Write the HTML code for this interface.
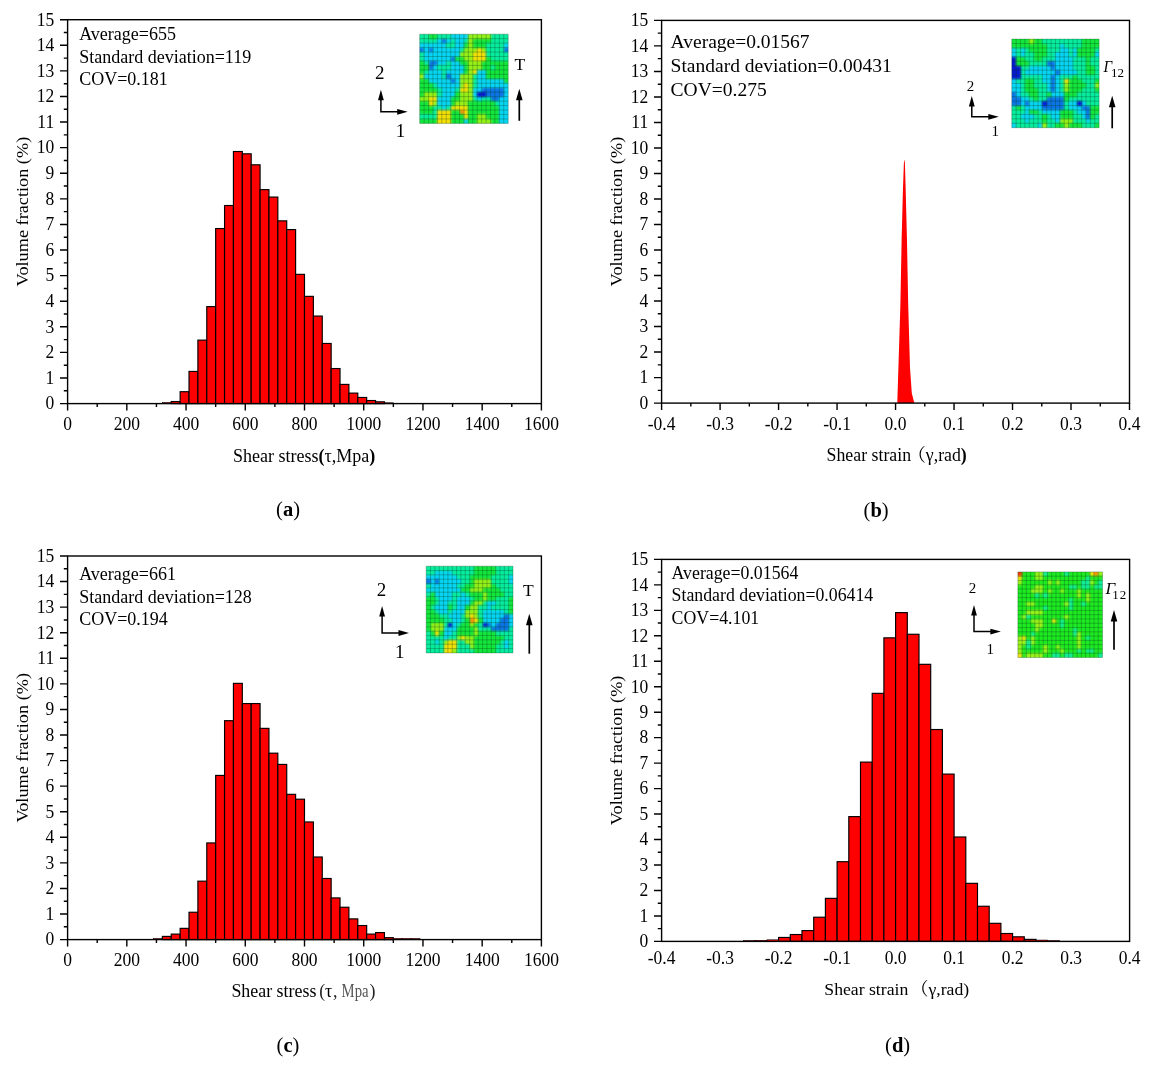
<!DOCTYPE html>
<html lang="en"><head><meta charset="utf-8"><title>Shear stress and shear strain volume fraction histograms</title>
<style>html,body{margin:0;padding:0;background:#fff}svg{display:block}text{white-space:pre}</style></head>
<body>
<svg width="1155" height="1066" viewBox="0 0 1155 1066" font-family='"Liberation Serif", "Noto Serif CJK SC", serif' fill="#000">
<rect width="1155" height="1066" fill="#fff"/>
<defs><filter id="hb" x="-10%" y="-10%" width="120%" height="120%" color-interpolation-filters="sRGB"><feGaussianBlur stdDeviation="1.15"/></filter></defs>
<g id="pa">
<g fill="#fe0000" stroke="#000" stroke-width="1.15">
<rect x="162.36" y="402.53" width="8.88" height="1.07" stroke-width="0.6"/>
<rect x="171.24" y="401.55" width="8.88" height="2.05"/>
<rect x="180.13" y="391.7" width="8.88" height="11.9"/>
<rect x="189.01" y="371.43" width="8.88" height="32.17"/>
<rect x="197.89" y="340.13" width="8.88" height="63.47"/>
<rect x="206.78" y="306.6" width="8.88" height="97"/>
<rect x="215.66" y="228.54" width="8.88" height="175.06"/>
<rect x="224.55" y="205.51" width="8.88" height="198.09"/>
<rect x="233.43" y="151.51" width="8.88" height="252.09"/>
<rect x="242.31" y="153.81" width="8.88" height="249.79"/>
<rect x="251.2" y="164.81" width="8.88" height="238.79"/>
<rect x="260.08" y="189.64" width="8.88" height="213.96"/>
<rect x="268.96" y="197.06" width="8.88" height="206.54"/>
<rect x="277.85" y="220.86" width="8.88" height="182.74"/>
<rect x="286.73" y="229.57" width="8.88" height="174.03"/>
<rect x="295.62" y="274.35" width="8.88" height="129.25"/>
<rect x="304.5" y="296.36" width="8.88" height="107.24"/>
<rect x="313.38" y="316.07" width="8.88" height="87.53"/>
<rect x="322.27" y="343.46" width="8.88" height="60.14"/>
<rect x="331.15" y="368.54" width="8.88" height="35.06"/>
<rect x="340.03" y="384.41" width="8.88" height="19.2"/>
<rect x="348.92" y="393.11" width="8.88" height="10.49"/>
<rect x="357.8" y="397.46" width="8.88" height="6.14"/>
<rect x="366.69" y="400.53" width="8.88" height="3.07"/>
<rect x="375.57" y="401.81" width="8.88" height="1.79"/>
<rect x="384.45" y="402.79" width="8.88" height="0.81" stroke-width="0.6"/>
</g>
<rect x="67.6" y="19.7" width="473.8" height="383.9" fill="none" stroke="#000" stroke-width="1.4"/>
<path d="M67.6 403.6h-7.6M67.6 390.8h-3.8M67.6 378.01h-7.6M67.6 365.21h-3.8M67.6 352.41h-7.6M67.6 339.62h-3.8M67.6 326.82h-7.6M67.6 314.02h-3.8M67.6 301.23h-7.6M67.6 288.43h-3.8M67.6 275.63h-7.6M67.6 262.84h-3.8M67.6 250.04h-7.6M67.6 237.24h-3.8M67.6 224.45h-7.6M67.6 211.65h-3.8M67.6 198.85h-7.6M67.6 186.06h-3.8M67.6 173.26h-7.6M67.6 160.46h-3.8M67.6 147.67h-7.6M67.6 134.87h-3.8M67.6 122.07h-7.6M67.6 109.28h-3.8M67.6 96.48h-7.6M67.6 83.68h-3.8M67.6 70.89h-7.6M67.6 58.09h-3.8M67.6 45.29h-7.6M67.6 32.5h-3.8M67.6 19.7h-7.6M67.6 403.6v7M97.21 403.6v3.5M126.82 403.6v7M156.44 403.6v3.5M186.05 403.6v7M215.66 403.6v3.5M245.27 403.6v7M274.89 403.6v3.5M304.5 403.6v7M334.11 403.6v3.5M363.73 403.6v7M393.34 403.6v3.5M422.95 403.6v7M452.56 403.6v3.5M482.17 403.6v7M511.79 403.6v3.5M541.4 403.6v7" stroke="#000" stroke-width="1.4" fill="none"/>
<g font-size="17.5" text-anchor="end">
<text transform="translate(54.2 409.4) scale(1 1.03)">0</text>
<text transform="translate(54.2 383.81) scale(1 1.03)">1</text>
<text transform="translate(54.2 358.21) scale(1 1.03)">2</text>
<text transform="translate(54.2 332.62) scale(1 1.03)">3</text>
<text transform="translate(54.2 307.03) scale(1 1.03)">4</text>
<text transform="translate(54.2 281.43) scale(1 1.03)">5</text>
<text transform="translate(54.2 255.84) scale(1 1.03)">6</text>
<text transform="translate(54.2 230.25) scale(1 1.03)">7</text>
<text transform="translate(54.2 204.65) scale(1 1.03)">8</text>
<text transform="translate(54.2 179.06) scale(1 1.03)">9</text>
<text transform="translate(54.2 153.47) scale(1 1.03)">10</text>
<text transform="translate(54.2 127.87) scale(1 1.03)">11</text>
<text transform="translate(54.2 102.28) scale(1 1.03)">12</text>
<text transform="translate(54.2 76.69) scale(1 1.03)">13</text>
<text transform="translate(54.2 51.09) scale(1 1.03)">14</text>
<text transform="translate(54.2 25.5) scale(1 1.03)">15</text>
</g>
<g font-size="17.5" text-anchor="middle">
<text transform="translate(67.6 430.4) scale(1 1.03)">0</text>
<text transform="translate(126.82 430.4) scale(1 1.03)">200</text>
<text transform="translate(186.05 430.4) scale(1 1.03)">400</text>
<text transform="translate(245.27 430.4) scale(1 1.03)">600</text>
<text transform="translate(304.5 430.4) scale(1 1.03)">800</text>
<text transform="translate(363.73 430.4) scale(1 1.03)">1000</text>
<text transform="translate(422.95 430.4) scale(1 1.03)">1200</text>
<text transform="translate(482.17 430.4) scale(1 1.03)">1400</text>
<text transform="translate(541.4 430.4) scale(1 1.03)">1600</text>
</g>
<text transform="translate(28.2 211.6) rotate(-90) scale(1.043 1)" font-size="17.5" text-anchor="middle">Volume fraction (%)</text>
<text x="304.1" y="461.9" font-size="18" text-anchor="middle" >Shear stress<tspan font-weight="bold">(</tspan>τ,Mpa<tspan font-weight="bold">)</tspan></text>
<text x="79.2" y="40.1" font-size="18" text-anchor="start" >Average=655</text>
<text x="79.2" y="62.7" font-size="18" text-anchor="start" >Standard deviation=119</text>
<text x="79.2" y="85.2" font-size="18" text-anchor="start" >COV=0.181</text>
<clipPath id="hc1"><rect x="419.7" y="34.2" width="88.5" height="89.2"/></clipPath>
<g clip-path="url(#hc1)"><g filter="url(#hb)" shape-rendering="crispEdges">
<rect x="414.7" y="29.2" width="13.9" height="9.51" fill="#08eca0"/>
<rect x="428.55" y="29.2" width="8.9" height="9.51" fill="#14e63c"/>
<rect x="437.4" y="29.2" width="13.33" height="9.51" fill="#08eca0"/>
<rect x="450.68" y="29.2" width="17.75" height="9.51" fill="#08d4f4"/>
<rect x="468.38" y="29.2" width="22.18" height="9.51" fill="#96f018"/>
<rect x="490.5" y="29.2" width="22.75" height="9.51" fill="#08eca0"/>
<rect x="414.7" y="38.66" width="22.75" height="4.51" fill="#08eca0"/>
<rect x="437.4" y="38.66" width="4.48" height="4.51" fill="#08d4f4"/>
<rect x="441.82" y="38.66" width="4.48" height="4.51" fill="#0c74e6"/>
<rect x="446.25" y="38.66" width="4.48" height="4.51" fill="#08d4f4"/>
<rect x="450.68" y="38.66" width="4.47" height="4.51" fill="#08eca0"/>
<rect x="455.1" y="38.66" width="8.9" height="4.51" fill="#08d4f4"/>
<rect x="463.95" y="38.66" width="4.48" height="4.51" fill="#08eca0"/>
<rect x="468.38" y="38.66" width="4.47" height="4.51" fill="#96f018"/>
<rect x="472.8" y="38.66" width="17.75" height="4.51" fill="#14e63c"/>
<rect x="490.5" y="38.66" width="22.75" height="4.51" fill="#08eca0"/>
<rect x="414.7" y="43.12" width="31.6" height="4.51" fill="#08d4f4"/>
<rect x="446.25" y="43.12" width="8.9" height="4.51" fill="#08eca0"/>
<rect x="455.1" y="43.12" width="8.9" height="4.51" fill="#08d4f4"/>
<rect x="463.95" y="43.12" width="4.48" height="4.51" fill="#14e63c"/>
<rect x="468.38" y="43.12" width="4.47" height="4.51" fill="#96f018"/>
<rect x="472.8" y="43.12" width="13.33" height="4.51" fill="#14e63c"/>
<rect x="486.07" y="43.12" width="17.75" height="4.51" fill="#08eca0"/>
<rect x="503.77" y="43.12" width="9.48" height="4.51" fill="#08d4f4"/>
<rect x="414.7" y="47.58" width="9.48" height="4.51" fill="#0c74e6"/>
<rect x="424.12" y="47.58" width="4.48" height="4.51" fill="#08d4f4"/>
<rect x="428.55" y="47.58" width="4.47" height="4.51" fill="#0c74e6"/>
<rect x="432.97" y="47.58" width="26.6" height="4.51" fill="#08d4f4"/>
<rect x="459.52" y="47.58" width="4.48" height="4.51" fill="#08eca0"/>
<rect x="463.95" y="47.58" width="13.32" height="4.51" fill="#96f018"/>
<rect x="477.22" y="47.58" width="4.48" height="4.51" fill="#f6de08"/>
<rect x="481.65" y="47.58" width="4.48" height="4.51" fill="#96f018"/>
<rect x="486.07" y="47.58" width="17.75" height="4.51" fill="#08eca0"/>
<rect x="503.77" y="47.58" width="9.48" height="4.51" fill="#0c74e6"/>
<rect x="414.7" y="52.04" width="9.48" height="4.51" fill="#08eca0"/>
<rect x="424.12" y="52.04" width="35.45" height="4.51" fill="#08d4f4"/>
<rect x="459.52" y="52.04" width="13.32" height="4.51" fill="#96f018"/>
<rect x="472.8" y="52.04" width="13.33" height="4.51" fill="#f6de08"/>
<rect x="486.07" y="52.04" width="27.18" height="4.51" fill="#08eca0"/>
<rect x="414.7" y="56.5" width="9.48" height="4.51" fill="#08eca0"/>
<rect x="424.12" y="56.5" width="26.6" height="4.51" fill="#08d4f4"/>
<rect x="450.68" y="56.5" width="4.47" height="4.51" fill="#0c74e6"/>
<rect x="455.1" y="56.5" width="8.9" height="4.51" fill="#14e63c"/>
<rect x="463.95" y="56.5" width="8.9" height="4.51" fill="#96f018"/>
<rect x="472.8" y="56.5" width="13.33" height="4.51" fill="#f6de08"/>
<rect x="486.07" y="56.5" width="4.48" height="4.51" fill="#14e63c"/>
<rect x="490.5" y="56.5" width="22.75" height="4.51" fill="#08eca0"/>
<rect x="414.7" y="60.96" width="9.48" height="4.51" fill="#14e63c"/>
<rect x="424.12" y="60.96" width="4.48" height="4.51" fill="#08eca0"/>
<rect x="428.55" y="60.96" width="8.9" height="4.51" fill="#0c74e6"/>
<rect x="437.4" y="60.96" width="8.9" height="4.51" fill="#08d4f4"/>
<rect x="446.25" y="60.96" width="4.48" height="4.51" fill="#08eca0"/>
<rect x="450.68" y="60.96" width="8.9" height="4.51" fill="#08d4f4"/>
<rect x="459.52" y="60.96" width="8.9" height="4.51" fill="#14e63c"/>
<rect x="468.38" y="60.96" width="13.32" height="4.51" fill="#96f018"/>
<rect x="481.65" y="60.96" width="31.6" height="4.51" fill="#14e63c"/>
<rect x="414.7" y="65.42" width="13.9" height="4.51" fill="#14e63c"/>
<rect x="428.55" y="65.42" width="4.47" height="4.51" fill="#0c74e6"/>
<rect x="432.97" y="65.42" width="4.48" height="4.51" fill="#08d4f4"/>
<rect x="437.4" y="65.42" width="13.33" height="4.51" fill="#08eca0"/>
<rect x="450.68" y="65.42" width="13.32" height="4.51" fill="#08d4f4"/>
<rect x="463.95" y="65.42" width="4.48" height="4.51" fill="#14e63c"/>
<rect x="468.38" y="65.42" width="13.32" height="4.51" fill="#96f018"/>
<rect x="481.65" y="65.42" width="8.9" height="4.51" fill="#14e63c"/>
<rect x="490.5" y="65.42" width="4.47" height="4.51" fill="#08eca0"/>
<rect x="494.92" y="65.42" width="18.33" height="4.51" fill="#14e63c"/>
<rect x="414.7" y="69.88" width="9.48" height="4.51" fill="#14e63c"/>
<rect x="424.12" y="69.88" width="4.48" height="4.51" fill="#08eca0"/>
<rect x="428.55" y="69.88" width="13.32" height="4.51" fill="#08d4f4"/>
<rect x="441.82" y="69.88" width="4.48" height="4.51" fill="#08eca0"/>
<rect x="446.25" y="69.88" width="17.75" height="4.51" fill="#08d4f4"/>
<rect x="463.95" y="69.88" width="4.48" height="4.51" fill="#14e63c"/>
<rect x="468.38" y="69.88" width="4.47" height="4.51" fill="#96f018"/>
<rect x="472.8" y="69.88" width="4.48" height="4.51" fill="#f6de08"/>
<rect x="477.22" y="69.88" width="8.9" height="4.51" fill="#08d4f4"/>
<rect x="486.07" y="69.88" width="27.18" height="4.51" fill="#14e63c"/>
<rect x="414.7" y="74.34" width="9.48" height="4.51" fill="#96f018"/>
<rect x="424.12" y="74.34" width="17.75" height="4.51" fill="#08d4f4"/>
<rect x="441.82" y="74.34" width="4.48" height="4.51" fill="#08eca0"/>
<rect x="446.25" y="74.34" width="4.48" height="4.51" fill="#0c74e6"/>
<rect x="450.68" y="74.34" width="8.9" height="4.51" fill="#08d4f4"/>
<rect x="459.52" y="74.34" width="13.32" height="4.51" fill="#96f018"/>
<rect x="472.8" y="74.34" width="4.48" height="4.51" fill="#08eca0"/>
<rect x="477.22" y="74.34" width="8.9" height="4.51" fill="#08d4f4"/>
<rect x="486.07" y="74.34" width="27.18" height="4.51" fill="#14e63c"/>
<rect x="414.7" y="78.8" width="13.9" height="4.51" fill="#14e63c"/>
<rect x="428.55" y="78.8" width="22.18" height="4.51" fill="#08d4f4"/>
<rect x="450.68" y="78.8" width="4.47" height="4.51" fill="#0c74e6"/>
<rect x="455.1" y="78.8" width="4.48" height="4.51" fill="#08d4f4"/>
<rect x="459.52" y="78.8" width="13.32" height="4.51" fill="#96f018"/>
<rect x="472.8" y="78.8" width="4.48" height="4.51" fill="#08eca0"/>
<rect x="477.22" y="78.8" width="26.6" height="4.51" fill="#08d4f4"/>
<rect x="503.77" y="78.8" width="9.48" height="4.51" fill="#14e63c"/>
<rect x="414.7" y="83.26" width="18.32" height="4.51" fill="#14e63c"/>
<rect x="432.97" y="83.26" width="4.48" height="4.51" fill="#08eca0"/>
<rect x="437.4" y="83.26" width="22.18" height="4.51" fill="#08d4f4"/>
<rect x="459.52" y="83.26" width="4.48" height="4.51" fill="#96f018"/>
<rect x="463.95" y="83.26" width="4.48" height="4.51" fill="#f6de08"/>
<rect x="468.38" y="83.26" width="4.47" height="4.51" fill="#96f018"/>
<rect x="472.8" y="83.26" width="4.48" height="4.51" fill="#08eca0"/>
<rect x="477.22" y="83.26" width="36.03" height="4.51" fill="#08d4f4"/>
<rect x="414.7" y="87.72" width="22.75" height="4.51" fill="#14e63c"/>
<rect x="437.4" y="87.72" width="4.48" height="4.51" fill="#08eca0"/>
<rect x="441.82" y="87.72" width="13.32" height="4.51" fill="#08d4f4"/>
<rect x="455.1" y="87.72" width="4.48" height="4.51" fill="#08eca0"/>
<rect x="459.52" y="87.72" width="8.9" height="4.51" fill="#f6de08"/>
<rect x="468.38" y="87.72" width="4.47" height="4.51" fill="#96f018"/>
<rect x="472.8" y="87.72" width="8.9" height="4.51" fill="#08d4f4"/>
<rect x="481.65" y="87.72" width="22.18" height="4.51" fill="#0c74e6"/>
<rect x="503.77" y="87.72" width="9.48" height="4.51" fill="#08d4f4"/>
<rect x="414.7" y="92.18" width="9.48" height="4.51" fill="#14e63c"/>
<rect x="424.12" y="92.18" width="13.32" height="4.51" fill="#96f018"/>
<rect x="437.4" y="92.18" width="4.48" height="4.51" fill="#08eca0"/>
<rect x="441.82" y="92.18" width="13.32" height="4.51" fill="#08d4f4"/>
<rect x="455.1" y="92.18" width="4.48" height="4.51" fill="#14e63c"/>
<rect x="459.52" y="92.18" width="13.32" height="4.51" fill="#96f018"/>
<rect x="472.8" y="92.18" width="4.48" height="4.51" fill="#08d4f4"/>
<rect x="477.22" y="92.18" width="8.9" height="4.51" fill="#0818d2"/>
<rect x="486.07" y="92.18" width="17.75" height="4.51" fill="#0c74e6"/>
<rect x="503.77" y="92.18" width="9.48" height="4.51" fill="#08d4f4"/>
<rect x="414.7" y="96.64" width="13.9" height="4.51" fill="#96f018"/>
<rect x="428.55" y="96.64" width="8.9" height="4.51" fill="#f6de08"/>
<rect x="437.4" y="96.64" width="13.33" height="4.51" fill="#08d4f4"/>
<rect x="450.68" y="96.64" width="8.9" height="4.51" fill="#14e63c"/>
<rect x="459.52" y="96.64" width="13.32" height="4.51" fill="#96f018"/>
<rect x="472.8" y="96.64" width="4.48" height="4.51" fill="#08eca0"/>
<rect x="477.22" y="96.64" width="4.48" height="4.51" fill="#08d4f4"/>
<rect x="481.65" y="96.64" width="8.9" height="4.51" fill="#08eca0"/>
<rect x="490.5" y="96.64" width="8.9" height="4.51" fill="#0c74e6"/>
<rect x="499.35" y="96.64" width="13.9" height="4.51" fill="#08d4f4"/>
<rect x="414.7" y="101.1" width="13.9" height="4.51" fill="#14e63c"/>
<rect x="428.55" y="101.1" width="4.47" height="4.51" fill="#f6de08"/>
<rect x="432.97" y="101.1" width="4.48" height="4.51" fill="#96f018"/>
<rect x="437.4" y="101.1" width="13.33" height="4.51" fill="#08d4f4"/>
<rect x="450.68" y="101.1" width="4.47" height="4.51" fill="#14e63c"/>
<rect x="455.1" y="101.1" width="13.33" height="4.51" fill="#96f018"/>
<rect x="468.38" y="101.1" width="26.6" height="4.51" fill="#14e63c"/>
<rect x="494.92" y="101.1" width="4.48" height="4.51" fill="#08eca0"/>
<rect x="499.35" y="101.1" width="13.9" height="4.51" fill="#08d4f4"/>
<rect x="414.7" y="105.56" width="18.32" height="4.51" fill="#14e63c"/>
<rect x="432.97" y="105.56" width="8.9" height="4.51" fill="#08eca0"/>
<rect x="441.82" y="105.56" width="4.48" height="4.51" fill="#08d4f4"/>
<rect x="446.25" y="105.56" width="4.48" height="4.51" fill="#08eca0"/>
<rect x="450.68" y="105.56" width="17.75" height="4.51" fill="#f6de08"/>
<rect x="468.38" y="105.56" width="31.02" height="4.51" fill="#14e63c"/>
<rect x="499.35" y="105.56" width="13.9" height="4.51" fill="#08d4f4"/>
<rect x="414.7" y="110.02" width="18.32" height="4.51" fill="#14e63c"/>
<rect x="432.97" y="110.02" width="4.48" height="4.51" fill="#08eca0"/>
<rect x="437.4" y="110.02" width="13.33" height="4.51" fill="#f6de08"/>
<rect x="450.68" y="110.02" width="8.9" height="4.51" fill="#14e63c"/>
<rect x="459.52" y="110.02" width="4.48" height="4.51" fill="#ff8a08"/>
<rect x="463.95" y="110.02" width="4.48" height="4.51" fill="#f6de08"/>
<rect x="468.38" y="110.02" width="31.02" height="4.51" fill="#14e63c"/>
<rect x="499.35" y="110.02" width="13.9" height="4.51" fill="#08d4f4"/>
<rect x="414.7" y="114.48" width="22.75" height="4.51" fill="#08eca0"/>
<rect x="437.4" y="114.48" width="13.33" height="4.51" fill="#f6de08"/>
<rect x="450.68" y="114.48" width="13.32" height="4.51" fill="#14e63c"/>
<rect x="463.95" y="114.48" width="4.48" height="4.51" fill="#f6de08"/>
<rect x="468.38" y="114.48" width="8.9" height="4.51" fill="#14e63c"/>
<rect x="477.22" y="114.48" width="8.9" height="4.51" fill="#96f018"/>
<rect x="486.07" y="114.48" width="13.32" height="4.51" fill="#14e63c"/>
<rect x="499.35" y="114.48" width="13.9" height="4.51" fill="#08d4f4"/>
<rect x="414.7" y="118.94" width="22.75" height="9.51" fill="#14e63c"/>
<rect x="437.4" y="118.94" width="13.33" height="9.51" fill="#f6de08"/>
<rect x="450.68" y="118.94" width="13.32" height="9.51" fill="#14e63c"/>
<rect x="463.95" y="118.94" width="4.48" height="9.51" fill="#08d4f4"/>
<rect x="468.38" y="118.94" width="8.9" height="9.51" fill="#14e63c"/>
<rect x="477.22" y="118.94" width="13.33" height="9.51" fill="#96f018"/>
<rect x="490.5" y="118.94" width="8.9" height="9.51" fill="#14e63c"/>
<rect x="499.35" y="118.94" width="13.9" height="9.51" fill="#08d4f4"/>
</g></g>
<path d="M419.7 34.2V123.4M419.7 34.2H508.2M424.12 34.2V123.4M419.7 38.66H508.2M428.55 34.2V123.4M419.7 43.12H508.2M432.97 34.2V123.4M419.7 47.58H508.2M437.4 34.2V123.4M419.7 52.04H508.2M441.82 34.2V123.4M419.7 56.5H508.2M446.25 34.2V123.4M419.7 60.96H508.2M450.68 34.2V123.4M419.7 65.42H508.2M455.1 34.2V123.4M419.7 69.88H508.2M459.52 34.2V123.4M419.7 74.34H508.2M463.95 34.2V123.4M419.7 78.8H508.2M468.38 34.2V123.4M419.7 83.26H508.2M472.8 34.2V123.4M419.7 87.72H508.2M477.22 34.2V123.4M419.7 92.18H508.2M481.65 34.2V123.4M419.7 96.64H508.2M486.07 34.2V123.4M419.7 101.1H508.2M490.5 34.2V123.4M419.7 105.56H508.2M494.92 34.2V123.4M419.7 110.02H508.2M499.35 34.2V123.4M419.7 114.48H508.2M503.77 34.2V123.4M419.7 118.94H508.2M508.2 34.2V123.4M419.7 123.4H508.2" fill="none" stroke="#003c14" stroke-opacity="0.45" stroke-width="0.65"/>
<text x="379.8" y="78.9" font-size="19" text-anchor="middle" >2</text>
<text x="400.6" y="137.3" font-size="19" text-anchor="middle" >1</text>
<path d="M380.9 97.7V111.8H399.7" fill="none" stroke="#000" stroke-width="1.5"/>
<path d="M380.9 89.7l2.9 10.5h-5.8z"/>
<path d="M407.7 111.8l-10.5 -2.9v5.8z"/>
<text x="519.9" y="70.1" font-size="17.5" text-anchor="middle" >T</text>
<path d="M519.3 97.8V120.8" stroke="#000" stroke-width="1.7" fill="none"/>
<path d="M519.3 88.8l3.3 11.5h-6.6z"/>
<text x="288" y="516.3" font-size="20.5" text-anchor="middle">(<tspan font-weight="bold">a</tspan>)</text>
</g>
<g id="pb">
<path fill="#fe0000" d="M897.3 402.9L898.4 367.8L900.4 304.6L901.6 241.3L902.9 190.6L903.9 162.8L904.4 159.5L904.9 162.8L905.7 190.6L907 241.3L908.2 304.6L910 367.8L911.8 393.2L914.3 402.9Z"/>
<rect x="661.6" y="20.4" width="467.9" height="382.7" fill="none" stroke="#000" stroke-width="1.4"/>
<path d="M661.6 403.1h-7.6M661.6 390.34h-3.8M661.6 377.59h-7.6M661.6 364.83h-3.8M661.6 352.07h-7.6M661.6 339.32h-3.8M661.6 326.56h-7.6M661.6 313.8h-3.8M661.6 301.05h-7.6M661.6 288.29h-3.8M661.6 275.53h-7.6M661.6 262.78h-3.8M661.6 250.02h-7.6M661.6 237.26h-3.8M661.6 224.51h-7.6M661.6 211.75h-3.8M661.6 198.99h-7.6M661.6 186.24h-3.8M661.6 173.48h-7.6M661.6 160.72h-3.8M661.6 147.97h-7.6M661.6 135.21h-3.8M661.6 122.45h-7.6M661.6 109.7h-3.8M661.6 96.94h-7.6M661.6 84.18h-3.8M661.6 71.43h-7.6M661.6 58.67h-3.8M661.6 45.91h-7.6M661.6 33.16h-3.8M661.6 20.4h-7.6M661.6 403.1v7M690.84 403.1v3.5M720.09 403.1v7M749.33 403.1v3.5M778.58 403.1v7M807.82 403.1v3.5M837.06 403.1v7M866.31 403.1v3.5M895.55 403.1v7M924.79 403.1v3.5M954.04 403.1v7M983.28 403.1v3.5M1012.52 403.1v7M1041.77 403.1v3.5M1071.01 403.1v7M1100.26 403.1v3.5M1129.5 403.1v7" stroke="#000" stroke-width="1.4" fill="none"/>
<g font-size="17.5" text-anchor="end">
<text transform="translate(648.2 408.9) scale(1 1.03)">0</text>
<text transform="translate(648.2 383.39) scale(1 1.03)">1</text>
<text transform="translate(648.2 357.87) scale(1 1.03)">2</text>
<text transform="translate(648.2 332.36) scale(1 1.03)">3</text>
<text transform="translate(648.2 306.85) scale(1 1.03)">4</text>
<text transform="translate(648.2 281.33) scale(1 1.03)">5</text>
<text transform="translate(648.2 255.82) scale(1 1.03)">6</text>
<text transform="translate(648.2 230.31) scale(1 1.03)">7</text>
<text transform="translate(648.2 204.79) scale(1 1.03)">8</text>
<text transform="translate(648.2 179.28) scale(1 1.03)">9</text>
<text transform="translate(648.2 153.77) scale(1 1.03)">10</text>
<text transform="translate(648.2 128.25) scale(1 1.03)">11</text>
<text transform="translate(648.2 102.74) scale(1 1.03)">12</text>
<text transform="translate(648.2 77.23) scale(1 1.03)">13</text>
<text transform="translate(648.2 51.71) scale(1 1.03)">14</text>
<text transform="translate(648.2 26.2) scale(1 1.03)">15</text>
</g>
<g font-size="17.5" text-anchor="middle">
<text transform="translate(661.6 430.1) scale(1 1.03)">-0.4</text>
<text transform="translate(720.09 430.1) scale(1 1.03)">-0.3</text>
<text transform="translate(778.58 430.1) scale(1 1.03)">-0.2</text>
<text transform="translate(837.06 430.1) scale(1 1.03)">-0.1</text>
<text transform="translate(895.55 430.1) scale(1 1.03)">0.0</text>
<text transform="translate(954.04 430.1) scale(1 1.03)">0.1</text>
<text transform="translate(1012.52 430.1) scale(1 1.03)">0.2</text>
<text transform="translate(1071.01 430.1) scale(1 1.03)">0.3</text>
<text transform="translate(1129.5 430.1) scale(1 1.03)">0.4</text>
</g>
<text transform="translate(622.4 211.6) rotate(-90) scale(1.043 1)" font-size="17.5" text-anchor="middle">Volume fraction (%)</text>
<text x="826.6" y="461.2" font-size="17.8" text-anchor="start" >Shear strain<tspan dx="-3">（</tspan>γ,rad<tspan font-weight="bold">)</tspan></text>
<text x="670.6" y="47.8" font-size="19.5" text-anchor="start" >Average=0.01567</text>
<text x="670.6" y="71.6" font-size="19.5" text-anchor="start" >Standard deviation=0.00431</text>
<text x="670.6" y="96.1" font-size="19.5" text-anchor="start" >COV=0.275</text>
<clipPath id="hc2"><rect x="1011.8" y="39.1" width="87.3" height="88.6"/></clipPath>
<g clip-path="url(#hc2)"><g filter="url(#hb)" shape-rendering="crispEdges">
<rect x="1006.8" y="34.1" width="22.51" height="9.48" fill="#14e63c"/>
<rect x="1029.26" y="34.1" width="4.41" height="9.48" fill="#96f018"/>
<rect x="1033.62" y="34.1" width="8.78" height="9.48" fill="#14e63c"/>
<rect x="1042.36" y="34.1" width="39.33" height="9.48" fill="#08eca0"/>
<rect x="1081.64" y="34.1" width="22.51" height="9.48" fill="#14e63c"/>
<rect x="1006.8" y="43.53" width="39.97" height="4.48" fill="#14e63c"/>
<rect x="1046.72" y="43.53" width="13.14" height="4.48" fill="#08eca0"/>
<rect x="1059.81" y="43.53" width="4.41" height="4.48" fill="#08d4f4"/>
<rect x="1064.18" y="43.53" width="17.51" height="4.48" fill="#08eca0"/>
<rect x="1081.64" y="43.53" width="22.51" height="4.48" fill="#14e63c"/>
<rect x="1006.8" y="47.96" width="9.41" height="4.48" fill="#08d4f4"/>
<rect x="1016.16" y="47.96" width="4.41" height="4.48" fill="#08eca0"/>
<rect x="1020.53" y="47.96" width="4.41" height="4.48" fill="#08d4f4"/>
<rect x="1024.89" y="47.96" width="4.41" height="4.48" fill="#08eca0"/>
<rect x="1029.26" y="47.96" width="17.51" height="4.48" fill="#14e63c"/>
<rect x="1046.72" y="47.96" width="13.14" height="4.48" fill="#08eca0"/>
<rect x="1059.81" y="47.96" width="8.78" height="4.48" fill="#08d4f4"/>
<rect x="1068.54" y="47.96" width="4.41" height="4.48" fill="#08eca0"/>
<rect x="1072.91" y="47.96" width="4.41" height="4.48" fill="#08d4f4"/>
<rect x="1077.27" y="47.96" width="17.51" height="4.48" fill="#14e63c"/>
<rect x="1094.73" y="47.96" width="9.41" height="4.48" fill="#08eca0"/>
<rect x="1006.8" y="52.39" width="9.41" height="4.48" fill="#08d4f4"/>
<rect x="1016.16" y="52.39" width="4.41" height="4.48" fill="#08eca0"/>
<rect x="1020.53" y="52.39" width="4.41" height="4.48" fill="#08d4f4"/>
<rect x="1024.89" y="52.39" width="8.78" height="4.48" fill="#08eca0"/>
<rect x="1033.62" y="52.39" width="13.14" height="4.48" fill="#14e63c"/>
<rect x="1046.72" y="52.39" width="8.78" height="4.48" fill="#08eca0"/>
<rect x="1055.45" y="52.39" width="13.14" height="4.48" fill="#08d4f4"/>
<rect x="1068.54" y="52.39" width="4.41" height="4.48" fill="#08eca0"/>
<rect x="1072.91" y="52.39" width="4.41" height="4.48" fill="#08d4f4"/>
<rect x="1077.27" y="52.39" width="17.51" height="4.48" fill="#14e63c"/>
<rect x="1094.73" y="52.39" width="9.41" height="4.48" fill="#08d4f4"/>
<rect x="1006.8" y="56.82" width="9.41" height="4.48" fill="#0818d2"/>
<rect x="1016.16" y="56.82" width="8.78" height="4.48" fill="#14e63c"/>
<rect x="1024.89" y="56.82" width="8.78" height="4.48" fill="#08eca0"/>
<rect x="1033.62" y="56.82" width="8.78" height="4.48" fill="#14e63c"/>
<rect x="1042.36" y="56.82" width="13.14" height="4.48" fill="#08eca0"/>
<rect x="1055.45" y="56.82" width="17.51" height="4.48" fill="#08d4f4"/>
<rect x="1072.91" y="56.82" width="13.14" height="4.48" fill="#08eca0"/>
<rect x="1086" y="56.82" width="4.41" height="4.48" fill="#14e63c"/>
<rect x="1090.37" y="56.82" width="13.78" height="4.48" fill="#08eca0"/>
<rect x="1006.8" y="61.25" width="9.41" height="4.48" fill="#0818d2"/>
<rect x="1016.16" y="61.25" width="13.14" height="4.48" fill="#14e63c"/>
<rect x="1029.26" y="61.25" width="17.51" height="4.48" fill="#08eca0"/>
<rect x="1046.72" y="61.25" width="8.78" height="4.48" fill="#0c74e6"/>
<rect x="1055.45" y="61.25" width="17.51" height="4.48" fill="#08d4f4"/>
<rect x="1072.91" y="61.25" width="13.14" height="4.48" fill="#08eca0"/>
<rect x="1086" y="61.25" width="4.41" height="4.48" fill="#14e63c"/>
<rect x="1090.37" y="61.25" width="13.78" height="4.48" fill="#08eca0"/>
<rect x="1006.8" y="65.68" width="13.78" height="4.48" fill="#0818d2"/>
<rect x="1020.53" y="65.68" width="8.78" height="4.48" fill="#08eca0"/>
<rect x="1029.26" y="65.68" width="21.88" height="4.48" fill="#08d4f4"/>
<rect x="1051.09" y="65.68" width="4.41" height="4.48" fill="#0c74e6"/>
<rect x="1055.45" y="65.68" width="17.51" height="4.48" fill="#08d4f4"/>
<rect x="1072.91" y="65.68" width="13.14" height="4.48" fill="#08eca0"/>
<rect x="1086" y="65.68" width="8.78" height="4.48" fill="#14e63c"/>
<rect x="1094.73" y="65.68" width="9.41" height="4.48" fill="#08eca0"/>
<rect x="1006.8" y="70.11" width="13.78" height="4.48" fill="#0818d2"/>
<rect x="1020.53" y="70.11" width="4.41" height="4.48" fill="#08eca0"/>
<rect x="1024.89" y="70.11" width="30.6" height="4.48" fill="#08d4f4"/>
<rect x="1055.45" y="70.11" width="4.41" height="4.48" fill="#0c74e6"/>
<rect x="1059.81" y="70.11" width="17.51" height="4.48" fill="#08d4f4"/>
<rect x="1077.27" y="70.11" width="8.78" height="4.48" fill="#08eca0"/>
<rect x="1086" y="70.11" width="8.78" height="4.48" fill="#14e63c"/>
<rect x="1094.73" y="70.11" width="9.41" height="4.48" fill="#08eca0"/>
<rect x="1006.8" y="74.54" width="13.78" height="4.48" fill="#0818d2"/>
<rect x="1020.53" y="74.54" width="21.88" height="4.48" fill="#08eca0"/>
<rect x="1042.36" y="74.54" width="8.78" height="4.48" fill="#08d4f4"/>
<rect x="1051.09" y="74.54" width="4.41" height="4.48" fill="#0c74e6"/>
<rect x="1055.45" y="74.54" width="4.41" height="4.48" fill="#08d4f4"/>
<rect x="1059.81" y="74.54" width="13.14" height="4.48" fill="#08eca0"/>
<rect x="1072.91" y="74.54" width="4.41" height="4.48" fill="#14e63c"/>
<rect x="1077.27" y="74.54" width="26.88" height="4.48" fill="#08eca0"/>
<rect x="1006.8" y="78.97" width="9.41" height="4.48" fill="#08d4f4"/>
<rect x="1016.16" y="78.97" width="8.78" height="4.48" fill="#08eca0"/>
<rect x="1024.89" y="78.97" width="8.78" height="4.48" fill="#14e63c"/>
<rect x="1033.62" y="78.97" width="8.78" height="4.48" fill="#08eca0"/>
<rect x="1042.36" y="78.97" width="8.78" height="4.48" fill="#08d4f4"/>
<rect x="1051.09" y="78.97" width="4.41" height="4.48" fill="#0c74e6"/>
<rect x="1055.45" y="78.97" width="4.41" height="4.48" fill="#08d4f4"/>
<rect x="1059.81" y="78.97" width="4.41" height="4.48" fill="#08eca0"/>
<rect x="1064.18" y="78.97" width="4.41" height="4.48" fill="#f6de08"/>
<rect x="1068.54" y="78.97" width="13.14" height="4.48" fill="#14e63c"/>
<rect x="1081.64" y="78.97" width="13.14" height="4.48" fill="#08eca0"/>
<rect x="1094.73" y="78.97" width="9.41" height="4.48" fill="#14e63c"/>
<rect x="1006.8" y="83.4" width="13.78" height="4.48" fill="#08d4f4"/>
<rect x="1020.53" y="83.4" width="4.41" height="4.48" fill="#08eca0"/>
<rect x="1024.89" y="83.4" width="8.78" height="4.48" fill="#14e63c"/>
<rect x="1033.62" y="83.4" width="13.14" height="4.48" fill="#08eca0"/>
<rect x="1046.72" y="83.4" width="4.41" height="4.48" fill="#08d4f4"/>
<rect x="1051.09" y="83.4" width="4.41" height="4.48" fill="#0c74e6"/>
<rect x="1055.45" y="83.4" width="4.41" height="4.48" fill="#08d4f4"/>
<rect x="1059.81" y="83.4" width="4.41" height="4.48" fill="#08eca0"/>
<rect x="1064.18" y="83.4" width="4.41" height="4.48" fill="#96f018"/>
<rect x="1068.54" y="83.4" width="17.51" height="4.48" fill="#14e63c"/>
<rect x="1086" y="83.4" width="8.78" height="4.48" fill="#08eca0"/>
<rect x="1094.73" y="83.4" width="9.41" height="4.48" fill="#96f018"/>
<rect x="1006.8" y="87.83" width="13.78" height="4.48" fill="#08d4f4"/>
<rect x="1020.53" y="87.83" width="4.41" height="4.48" fill="#08eca0"/>
<rect x="1024.89" y="87.83" width="13.14" height="4.48" fill="#14e63c"/>
<rect x="1037.99" y="87.83" width="8.78" height="4.48" fill="#08eca0"/>
<rect x="1046.72" y="87.83" width="4.41" height="4.48" fill="#08d4f4"/>
<rect x="1051.09" y="87.83" width="4.41" height="4.48" fill="#0c74e6"/>
<rect x="1055.45" y="87.83" width="4.41" height="4.48" fill="#08d4f4"/>
<rect x="1059.81" y="87.83" width="4.41" height="4.48" fill="#08eca0"/>
<rect x="1064.18" y="87.83" width="4.41" height="4.48" fill="#96f018"/>
<rect x="1068.54" y="87.83" width="13.14" height="4.48" fill="#14e63c"/>
<rect x="1081.64" y="87.83" width="13.14" height="4.48" fill="#08eca0"/>
<rect x="1094.73" y="87.83" width="9.41" height="4.48" fill="#14e63c"/>
<rect x="1006.8" y="92.26" width="9.41" height="4.48" fill="#0c74e6"/>
<rect x="1016.16" y="92.26" width="4.41" height="4.48" fill="#08d4f4"/>
<rect x="1020.53" y="92.26" width="8.78" height="4.48" fill="#08eca0"/>
<rect x="1029.26" y="92.26" width="8.78" height="4.48" fill="#14e63c"/>
<rect x="1037.99" y="92.26" width="8.78" height="4.48" fill="#08eca0"/>
<rect x="1046.72" y="92.26" width="4.41" height="4.48" fill="#14e63c"/>
<rect x="1051.09" y="92.26" width="13.14" height="4.48" fill="#08d4f4"/>
<rect x="1064.18" y="92.26" width="13.14" height="4.48" fill="#14e63c"/>
<rect x="1077.27" y="92.26" width="26.88" height="4.48" fill="#08eca0"/>
<rect x="1006.8" y="96.69" width="13.78" height="4.48" fill="#0c74e6"/>
<rect x="1020.53" y="96.69" width="8.78" height="4.48" fill="#08d4f4"/>
<rect x="1029.26" y="96.69" width="4.41" height="4.48" fill="#08eca0"/>
<rect x="1033.62" y="96.69" width="4.41" height="4.48" fill="#14e63c"/>
<rect x="1037.99" y="96.69" width="8.78" height="4.48" fill="#08eca0"/>
<rect x="1046.72" y="96.69" width="17.51" height="4.48" fill="#0c74e6"/>
<rect x="1064.18" y="96.69" width="4.41" height="4.48" fill="#14e63c"/>
<rect x="1068.54" y="96.69" width="35.61" height="4.48" fill="#08eca0"/>
<rect x="1006.8" y="101.12" width="13.78" height="4.48" fill="#0c74e6"/>
<rect x="1020.53" y="101.12" width="4.41" height="4.48" fill="#08d4f4"/>
<rect x="1024.89" y="101.12" width="4.41" height="4.48" fill="#0c74e6"/>
<rect x="1029.26" y="101.12" width="13.14" height="4.48" fill="#08d4f4"/>
<rect x="1042.36" y="101.12" width="4.41" height="4.48" fill="#0818d2"/>
<rect x="1046.72" y="101.12" width="17.51" height="4.48" fill="#0c74e6"/>
<rect x="1064.18" y="101.12" width="4.41" height="4.48" fill="#08eca0"/>
<rect x="1068.54" y="101.12" width="8.78" height="4.48" fill="#08d4f4"/>
<rect x="1077.27" y="101.12" width="4.41" height="4.48" fill="#0818d2"/>
<rect x="1081.64" y="101.12" width="4.41" height="4.48" fill="#08d4f4"/>
<rect x="1086" y="101.12" width="18.14" height="4.48" fill="#08eca0"/>
<rect x="1006.8" y="105.55" width="9.41" height="4.48" fill="#08eca0"/>
<rect x="1016.16" y="105.55" width="4.41" height="4.48" fill="#14e63c"/>
<rect x="1020.53" y="105.55" width="4.41" height="4.48" fill="#08eca0"/>
<rect x="1024.89" y="105.55" width="17.51" height="4.48" fill="#08d4f4"/>
<rect x="1042.36" y="105.55" width="21.87" height="4.48" fill="#0c74e6"/>
<rect x="1064.18" y="105.55" width="4.41" height="4.48" fill="#08eca0"/>
<rect x="1068.54" y="105.55" width="13.14" height="4.48" fill="#08d4f4"/>
<rect x="1081.64" y="105.55" width="8.78" height="4.48" fill="#0c74e6"/>
<rect x="1090.37" y="105.55" width="13.78" height="4.48" fill="#14e63c"/>
<rect x="1006.8" y="109.98" width="18.14" height="4.48" fill="#08eca0"/>
<rect x="1024.89" y="109.98" width="4.41" height="4.48" fill="#08d4f4"/>
<rect x="1029.26" y="109.98" width="8.78" height="4.48" fill="#14e63c"/>
<rect x="1037.99" y="109.98" width="4.41" height="4.48" fill="#08eca0"/>
<rect x="1042.36" y="109.98" width="17.51" height="4.48" fill="#08d4f4"/>
<rect x="1059.81" y="109.98" width="13.14" height="4.48" fill="#14e63c"/>
<rect x="1072.91" y="109.98" width="4.41" height="4.48" fill="#08eca0"/>
<rect x="1077.27" y="109.98" width="8.78" height="4.48" fill="#08d4f4"/>
<rect x="1086" y="109.98" width="4.41" height="4.48" fill="#0c74e6"/>
<rect x="1090.37" y="109.98" width="13.78" height="4.48" fill="#14e63c"/>
<rect x="1006.8" y="114.41" width="13.78" height="4.48" fill="#08eca0"/>
<rect x="1020.53" y="114.41" width="13.14" height="4.48" fill="#08d4f4"/>
<rect x="1033.62" y="114.41" width="8.78" height="4.48" fill="#08eca0"/>
<rect x="1042.36" y="114.41" width="4.41" height="4.48" fill="#14e63c"/>
<rect x="1046.72" y="114.41" width="4.41" height="4.48" fill="#08eca0"/>
<rect x="1051.09" y="114.41" width="8.78" height="4.48" fill="#08d4f4"/>
<rect x="1059.81" y="114.41" width="13.14" height="4.48" fill="#14e63c"/>
<rect x="1072.91" y="114.41" width="8.78" height="4.48" fill="#08eca0"/>
<rect x="1081.64" y="114.41" width="4.41" height="4.48" fill="#08d4f4"/>
<rect x="1086" y="114.41" width="4.41" height="4.48" fill="#0c74e6"/>
<rect x="1090.37" y="114.41" width="4.41" height="4.48" fill="#14e63c"/>
<rect x="1094.73" y="114.41" width="9.41" height="4.48" fill="#08eca0"/>
<rect x="1006.8" y="118.84" width="18.14" height="4.48" fill="#08eca0"/>
<rect x="1024.89" y="118.84" width="4.41" height="4.48" fill="#08d4f4"/>
<rect x="1029.26" y="118.84" width="13.14" height="4.48" fill="#08eca0"/>
<rect x="1042.36" y="118.84" width="4.41" height="4.48" fill="#14e63c"/>
<rect x="1046.72" y="118.84" width="8.78" height="4.48" fill="#08eca0"/>
<rect x="1055.45" y="118.84" width="4.41" height="4.48" fill="#08d4f4"/>
<rect x="1059.81" y="118.84" width="13.14" height="4.48" fill="#96f018"/>
<rect x="1072.91" y="118.84" width="13.14" height="4.48" fill="#08eca0"/>
<rect x="1086" y="118.84" width="4.41" height="4.48" fill="#08d4f4"/>
<rect x="1090.37" y="118.84" width="13.78" height="4.48" fill="#08eca0"/>
<rect x="1006.8" y="123.27" width="9.41" height="9.48" fill="#08d4f4"/>
<rect x="1016.16" y="123.27" width="21.88" height="9.48" fill="#08eca0"/>
<rect x="1037.99" y="123.27" width="4.41" height="9.48" fill="#08d4f4"/>
<rect x="1042.36" y="123.27" width="4.41" height="9.48" fill="#96f018"/>
<rect x="1046.72" y="123.27" width="8.78" height="9.48" fill="#08eca0"/>
<rect x="1055.45" y="123.27" width="8.78" height="9.48" fill="#14e63c"/>
<rect x="1064.18" y="123.27" width="4.41" height="9.48" fill="#96f018"/>
<rect x="1068.54" y="123.27" width="13.14" height="9.48" fill="#14e63c"/>
<rect x="1081.64" y="123.27" width="13.14" height="9.48" fill="#08eca0"/>
<rect x="1094.73" y="123.27" width="9.41" height="9.48" fill="#14e63c"/>
</g></g>
<path d="M1011.8 39.1V127.7M1011.8 39.1H1099.1M1016.16 39.1V127.7M1011.8 43.53H1099.1M1020.53 39.1V127.7M1011.8 47.96H1099.1M1024.89 39.1V127.7M1011.8 52.39H1099.1M1029.26 39.1V127.7M1011.8 56.82H1099.1M1033.62 39.1V127.7M1011.8 61.25H1099.1M1037.99 39.1V127.7M1011.8 65.68H1099.1M1042.36 39.1V127.7M1011.8 70.11H1099.1M1046.72 39.1V127.7M1011.8 74.54H1099.1M1051.09 39.1V127.7M1011.8 78.97H1099.1M1055.45 39.1V127.7M1011.8 83.4H1099.1M1059.81 39.1V127.7M1011.8 87.83H1099.1M1064.18 39.1V127.7M1011.8 92.26H1099.1M1068.54 39.1V127.7M1011.8 96.69H1099.1M1072.91 39.1V127.7M1011.8 101.12H1099.1M1077.27 39.1V127.7M1011.8 105.55H1099.1M1081.64 39.1V127.7M1011.8 109.98H1099.1M1086 39.1V127.7M1011.8 114.41H1099.1M1090.37 39.1V127.7M1011.8 118.84H1099.1M1094.73 39.1V127.7M1011.8 123.27H1099.1M1099.1 39.1V127.7M1011.8 127.7H1099.1" fill="none" stroke="#003c14" stroke-opacity="0.45" stroke-width="0.65"/>
<text x="970.6" y="91" font-size="15" text-anchor="middle" >2</text>
<text x="995.3" y="135.5" font-size="15" text-anchor="middle" >1</text>
<path d="M971.8 104.1V116.8H990.8" fill="none" stroke="#000" stroke-width="1.5"/>
<path d="M971.8 96.1l2.9 10.5h-5.8z"/>
<path d="M998.8 116.8l-10.5 -2.9v5.8z"/>
<text x="1103.4" y="71.5" font-size="17" font-style="italic"><tspan textLength="8.6" lengthAdjust="spacingAndGlyphs">Γ</tspan><tspan font-style="normal" font-size="13" dy="5.2" dx="-1">12</tspan></text>
<path d="M1112.2 104.7V128.3" stroke="#000" stroke-width="1.7" fill="none"/>
<path d="M1112.2 95.7l3.3 11.5h-6.6z"/>
<text x="876.1" y="516.5" font-size="20.5" text-anchor="middle">(<tspan font-weight="bold">b</tspan>)</text>
</g>
<g id="pc">
<g fill="#fe0000" stroke="#000" stroke-width="1.15">
<rect x="153.48" y="938.53" width="8.88" height="1.07" stroke-width="0.6"/>
<rect x="162.36" y="936.4" width="8.88" height="3.2"/>
<rect x="171.24" y="934.1" width="8.88" height="5.5"/>
<rect x="180.13" y="928.35" width="8.88" height="11.25"/>
<rect x="189.01" y="912.24" width="8.88" height="27.36"/>
<rect x="197.89" y="881.16" width="8.88" height="58.44"/>
<rect x="206.78" y="842.93" width="8.88" height="96.67"/>
<rect x="215.66" y="775.42" width="8.88" height="164.18"/>
<rect x="224.55" y="720.69" width="8.88" height="218.91"/>
<rect x="233.43" y="683.36" width="8.88" height="256.24"/>
<rect x="242.31" y="703.56" width="8.88" height="236.04"/>
<rect x="251.2" y="703.56" width="8.88" height="236.04"/>
<rect x="260.08" y="728.36" width="8.88" height="211.24"/>
<rect x="268.96" y="753.17" width="8.88" height="186.43"/>
<rect x="277.85" y="764.42" width="8.88" height="175.18"/>
<rect x="286.73" y="794.34" width="8.88" height="145.26"/>
<rect x="295.62" y="799.2" width="8.88" height="140.4"/>
<rect x="304.5" y="821.96" width="8.88" height="117.64"/>
<rect x="313.38" y="857" width="8.88" height="82.6"/>
<rect x="322.27" y="878.48" width="8.88" height="61.12"/>
<rect x="331.15" y="897.92" width="8.88" height="41.68"/>
<rect x="340.03" y="907.25" width="8.88" height="32.35"/>
<rect x="348.92" y="918.89" width="8.88" height="20.71"/>
<rect x="357.8" y="925.53" width="8.88" height="14.07"/>
<rect x="366.69" y="934.1" width="8.88" height="5.5"/>
<rect x="375.57" y="932.57" width="8.88" height="7.03"/>
<rect x="384.45" y="937.68" width="8.88" height="1.92"/>
<rect x="393.34" y="938.4" width="8.88" height="1.2" stroke-width="0.6"/>
<rect x="402.22" y="938.53" width="8.88" height="1.07" stroke-width="0.6"/>
<rect x="411.11" y="938.53" width="8.88" height="1.07" stroke-width="0.6"/>
</g>
<rect x="67.6" y="556" width="473.8" height="383.6" fill="none" stroke="#000" stroke-width="1.4"/>
<path d="M67.6 939.6h-7.6M67.6 926.81h-3.8M67.6 914.03h-7.6M67.6 901.24h-3.8M67.6 888.45h-7.6M67.6 875.67h-3.8M67.6 862.88h-7.6M67.6 850.09h-3.8M67.6 837.31h-7.6M67.6 824.52h-3.8M67.6 811.73h-7.6M67.6 798.95h-3.8M67.6 786.16h-7.6M67.6 773.37h-3.8M67.6 760.59h-7.6M67.6 747.8h-3.8M67.6 735.01h-7.6M67.6 722.23h-3.8M67.6 709.44h-7.6M67.6 696.65h-3.8M67.6 683.87h-7.6M67.6 671.08h-3.8M67.6 658.29h-7.6M67.6 645.51h-3.8M67.6 632.72h-7.6M67.6 619.93h-3.8M67.6 607.15h-7.6M67.6 594.36h-3.8M67.6 581.57h-7.6M67.6 568.79h-3.8M67.6 556h-7.6M67.6 939.6v7M97.21 939.6v3.5M126.82 939.6v7M156.44 939.6v3.5M186.05 939.6v7M215.66 939.6v3.5M245.27 939.6v7M274.89 939.6v3.5M304.5 939.6v7M334.11 939.6v3.5M363.73 939.6v7M393.34 939.6v3.5M422.95 939.6v7M452.56 939.6v3.5M482.17 939.6v7M511.79 939.6v3.5M541.4 939.6v7" stroke="#000" stroke-width="1.4" fill="none"/>
<g font-size="17.5" text-anchor="end">
<text transform="translate(54.2 945.4) scale(1 1.03)">0</text>
<text transform="translate(54.2 919.83) scale(1 1.03)">1</text>
<text transform="translate(54.2 894.25) scale(1 1.03)">2</text>
<text transform="translate(54.2 868.68) scale(1 1.03)">3</text>
<text transform="translate(54.2 843.11) scale(1 1.03)">4</text>
<text transform="translate(54.2 817.53) scale(1 1.03)">5</text>
<text transform="translate(54.2 791.96) scale(1 1.03)">6</text>
<text transform="translate(54.2 766.39) scale(1 1.03)">7</text>
<text transform="translate(54.2 740.81) scale(1 1.03)">8</text>
<text transform="translate(54.2 715.24) scale(1 1.03)">9</text>
<text transform="translate(54.2 689.67) scale(1 1.03)">10</text>
<text transform="translate(54.2 664.09) scale(1 1.03)">11</text>
<text transform="translate(54.2 638.52) scale(1 1.03)">12</text>
<text transform="translate(54.2 612.95) scale(1 1.03)">13</text>
<text transform="translate(54.2 587.37) scale(1 1.03)">14</text>
<text transform="translate(54.2 561.8) scale(1 1.03)">15</text>
</g>
<g font-size="17.5" text-anchor="middle">
<text transform="translate(67.6 966.4) scale(1 1.03)">0</text>
<text transform="translate(126.82 966.4) scale(1 1.03)">200</text>
<text transform="translate(186.05 966.4) scale(1 1.03)">400</text>
<text transform="translate(245.27 966.4) scale(1 1.03)">600</text>
<text transform="translate(304.5 966.4) scale(1 1.03)">800</text>
<text transform="translate(363.73 966.4) scale(1 1.03)">1000</text>
<text transform="translate(422.95 966.4) scale(1 1.03)">1200</text>
<text transform="translate(482.17 966.4) scale(1 1.03)">1400</text>
<text transform="translate(541.4 966.4) scale(1 1.03)">1600</text>
</g>
<text transform="translate(28.2 747.8) rotate(-90) scale(1.043 1)" font-size="17.5" text-anchor="middle">Volume fraction (%)</text>
<text x="231.4" y="997.3" font-size="17.9" text-anchor="start" >Shear stress<tspan x="319.2" fill="#222">(</tspan><tspan x="324.9">τ</tspan><tspan x="333" fill="#222">,</tspan><tspan x="341.6" fill="#555" textLength="27" lengthAdjust="spacingAndGlyphs">Mpa</tspan><tspan x="369.6" fill="#222">)</tspan></text>
<text x="79.2" y="580.2" font-size="18" text-anchor="start" >Average=661</text>
<text x="79.2" y="602.7" font-size="18" text-anchor="start" >Standard deviation=128</text>
<text x="79.2" y="625" font-size="18" text-anchor="start" >COV=0.194</text>
<clipPath id="hc3"><rect x="426.2" y="566.2" width="86.8" height="86.7"/></clipPath>
<g clip-path="url(#hc3)"><g filter="url(#hb)" shape-rendering="crispEdges">
<rect x="421.2" y="561.2" width="52.79" height="9.38" fill="#08eca0"/>
<rect x="473.94" y="561.2" width="21.75" height="9.38" fill="#14e63c"/>
<rect x="495.64" y="561.2" width="22.41" height="9.38" fill="#08eca0"/>
<rect x="421.2" y="570.54" width="13.73" height="4.38" fill="#08eca0"/>
<rect x="434.88" y="570.54" width="17.41" height="4.38" fill="#08d4f4"/>
<rect x="452.24" y="570.54" width="21.75" height="4.38" fill="#08eca0"/>
<rect x="473.94" y="570.54" width="21.75" height="4.38" fill="#14e63c"/>
<rect x="495.64" y="570.54" width="22.41" height="4.38" fill="#08eca0"/>
<rect x="421.2" y="574.87" width="35.43" height="4.38" fill="#08d4f4"/>
<rect x="456.58" y="574.87" width="13.07" height="4.38" fill="#08eca0"/>
<rect x="469.6" y="574.87" width="21.75" height="4.38" fill="#14e63c"/>
<rect x="491.3" y="574.87" width="17.41" height="4.38" fill="#08eca0"/>
<rect x="508.66" y="574.87" width="9.39" height="4.38" fill="#08d4f4"/>
<rect x="421.2" y="579.21" width="9.39" height="4.38" fill="#0c74e6"/>
<rect x="430.54" y="579.21" width="4.39" height="4.38" fill="#08d4f4"/>
<rect x="434.88" y="579.21" width="4.39" height="4.38" fill="#0c74e6"/>
<rect x="439.22" y="579.21" width="21.75" height="4.38" fill="#08d4f4"/>
<rect x="460.92" y="579.21" width="8.73" height="4.38" fill="#08eca0"/>
<rect x="469.6" y="579.21" width="4.39" height="4.38" fill="#14e63c"/>
<rect x="473.94" y="579.21" width="17.41" height="4.38" fill="#96f018"/>
<rect x="491.3" y="579.21" width="17.41" height="4.38" fill="#08eca0"/>
<rect x="508.66" y="579.21" width="9.39" height="4.38" fill="#08d4f4"/>
<rect x="421.2" y="583.54" width="9.39" height="4.38" fill="#08eca0"/>
<rect x="430.54" y="583.54" width="26.09" height="4.38" fill="#08d4f4"/>
<rect x="456.58" y="583.54" width="8.73" height="4.38" fill="#08eca0"/>
<rect x="465.26" y="583.54" width="8.73" height="4.38" fill="#14e63c"/>
<rect x="473.94" y="583.54" width="17.41" height="4.38" fill="#96f018"/>
<rect x="491.3" y="583.54" width="4.39" height="4.38" fill="#14e63c"/>
<rect x="495.64" y="583.54" width="22.41" height="4.38" fill="#08eca0"/>
<rect x="421.2" y="587.88" width="39.77" height="4.38" fill="#08d4f4"/>
<rect x="460.92" y="587.88" width="8.73" height="4.38" fill="#14e63c"/>
<rect x="469.6" y="587.88" width="13.07" height="4.38" fill="#96f018"/>
<rect x="482.62" y="587.88" width="17.41" height="4.38" fill="#14e63c"/>
<rect x="499.98" y="587.88" width="18.07" height="4.38" fill="#08eca0"/>
<rect x="421.2" y="592.21" width="9.39" height="4.38" fill="#08eca0"/>
<rect x="430.54" y="592.21" width="4.39" height="4.38" fill="#14e63c"/>
<rect x="434.88" y="592.21" width="17.41" height="4.38" fill="#08d4f4"/>
<rect x="452.24" y="592.21" width="8.73" height="4.38" fill="#08eca0"/>
<rect x="460.92" y="592.21" width="4.39" height="4.38" fill="#08d4f4"/>
<rect x="465.26" y="592.21" width="4.39" height="4.38" fill="#08eca0"/>
<rect x="469.6" y="592.21" width="13.07" height="4.38" fill="#14e63c"/>
<rect x="482.62" y="592.21" width="4.39" height="4.38" fill="#96f018"/>
<rect x="486.96" y="592.21" width="17.41" height="4.38" fill="#14e63c"/>
<rect x="504.32" y="592.21" width="13.73" height="4.38" fill="#08eca0"/>
<rect x="421.2" y="596.55" width="13.73" height="4.38" fill="#14e63c"/>
<rect x="434.88" y="596.55" width="4.39" height="4.38" fill="#08eca0"/>
<rect x="439.22" y="596.55" width="13.07" height="4.38" fill="#08d4f4"/>
<rect x="452.24" y="596.55" width="4.39" height="4.38" fill="#08eca0"/>
<rect x="456.58" y="596.55" width="13.07" height="4.38" fill="#08d4f4"/>
<rect x="469.6" y="596.55" width="4.39" height="4.38" fill="#08eca0"/>
<rect x="473.94" y="596.55" width="8.73" height="4.38" fill="#14e63c"/>
<rect x="482.62" y="596.55" width="4.39" height="4.38" fill="#96f018"/>
<rect x="486.96" y="596.55" width="8.73" height="4.38" fill="#14e63c"/>
<rect x="495.64" y="596.55" width="13.07" height="4.38" fill="#08eca0"/>
<rect x="508.66" y="596.55" width="9.39" height="4.38" fill="#14e63c"/>
<rect x="421.2" y="600.88" width="13.73" height="4.38" fill="#14e63c"/>
<rect x="434.88" y="600.88" width="4.39" height="4.38" fill="#08eca0"/>
<rect x="439.22" y="600.88" width="8.73" height="4.38" fill="#08d4f4"/>
<rect x="447.9" y="600.88" width="8.73" height="4.38" fill="#08eca0"/>
<rect x="456.58" y="600.88" width="13.07" height="4.38" fill="#08d4f4"/>
<rect x="469.6" y="600.88" width="4.39" height="4.38" fill="#14e63c"/>
<rect x="473.94" y="600.88" width="8.73" height="4.38" fill="#96f018"/>
<rect x="482.62" y="600.88" width="4.39" height="4.38" fill="#08eca0"/>
<rect x="486.96" y="600.88" width="8.73" height="4.38" fill="#08d4f4"/>
<rect x="495.64" y="600.88" width="13.07" height="4.38" fill="#08eca0"/>
<rect x="508.66" y="600.88" width="9.39" height="4.38" fill="#14e63c"/>
<rect x="421.2" y="605.22" width="9.39" height="4.38" fill="#14e63c"/>
<rect x="430.54" y="605.22" width="4.39" height="4.38" fill="#08eca0"/>
<rect x="434.88" y="605.22" width="13.07" height="4.38" fill="#08d4f4"/>
<rect x="447.9" y="605.22" width="4.39" height="4.38" fill="#14e63c"/>
<rect x="452.24" y="605.22" width="4.39" height="4.38" fill="#08eca0"/>
<rect x="456.58" y="605.22" width="8.73" height="4.38" fill="#08d4f4"/>
<rect x="465.26" y="605.22" width="4.39" height="4.38" fill="#14e63c"/>
<rect x="469.6" y="605.22" width="8.73" height="4.38" fill="#96f018"/>
<rect x="478.28" y="605.22" width="8.73" height="4.38" fill="#08eca0"/>
<rect x="486.96" y="605.22" width="4.39" height="4.38" fill="#08d4f4"/>
<rect x="491.3" y="605.22" width="17.41" height="4.38" fill="#08eca0"/>
<rect x="508.66" y="605.22" width="9.39" height="4.38" fill="#14e63c"/>
<rect x="421.2" y="609.55" width="13.73" height="4.38" fill="#14e63c"/>
<rect x="434.88" y="609.55" width="4.39" height="4.38" fill="#08eca0"/>
<rect x="439.22" y="609.55" width="8.73" height="4.38" fill="#08d4f4"/>
<rect x="447.9" y="609.55" width="4.39" height="4.38" fill="#08eca0"/>
<rect x="452.24" y="609.55" width="13.07" height="4.38" fill="#08d4f4"/>
<rect x="465.26" y="609.55" width="13.07" height="4.38" fill="#96f018"/>
<rect x="478.28" y="609.55" width="4.39" height="4.38" fill="#08eca0"/>
<rect x="482.62" y="609.55" width="21.75" height="4.38" fill="#08d4f4"/>
<rect x="504.32" y="609.55" width="4.39" height="4.38" fill="#08eca0"/>
<rect x="508.66" y="609.55" width="9.39" height="4.38" fill="#14e63c"/>
<rect x="421.2" y="613.88" width="18.07" height="4.38" fill="#14e63c"/>
<rect x="439.22" y="613.88" width="8.73" height="4.38" fill="#08eca0"/>
<rect x="447.9" y="613.88" width="13.07" height="4.38" fill="#08d4f4"/>
<rect x="460.92" y="613.88" width="4.39" height="4.38" fill="#08eca0"/>
<rect x="465.26" y="613.88" width="4.39" height="4.38" fill="#96f018"/>
<rect x="469.6" y="613.88" width="4.39" height="4.38" fill="#f6de08"/>
<rect x="473.94" y="613.88" width="4.39" height="4.38" fill="#96f018"/>
<rect x="478.28" y="613.88" width="4.39" height="4.38" fill="#08eca0"/>
<rect x="482.62" y="613.88" width="21.75" height="4.38" fill="#08d4f4"/>
<rect x="504.32" y="613.88" width="4.39" height="4.38" fill="#0c74e6"/>
<rect x="508.66" y="613.88" width="9.39" height="4.38" fill="#08d4f4"/>
<rect x="421.2" y="618.22" width="22.41" height="4.38" fill="#14e63c"/>
<rect x="443.56" y="618.22" width="8.73" height="4.38" fill="#08eca0"/>
<rect x="452.24" y="618.22" width="8.73" height="4.38" fill="#08d4f4"/>
<rect x="460.92" y="618.22" width="4.39" height="4.38" fill="#08eca0"/>
<rect x="465.26" y="618.22" width="4.39" height="4.38" fill="#14e63c"/>
<rect x="469.6" y="618.22" width="4.39" height="4.38" fill="#ff8a08"/>
<rect x="473.94" y="618.22" width="4.39" height="4.38" fill="#f6de08"/>
<rect x="478.28" y="618.22" width="4.39" height="4.38" fill="#14e63c"/>
<rect x="482.62" y="618.22" width="17.41" height="4.38" fill="#08d4f4"/>
<rect x="499.98" y="618.22" width="8.73" height="4.38" fill="#0c74e6"/>
<rect x="508.66" y="618.22" width="9.39" height="4.38" fill="#08d4f4"/>
<rect x="421.2" y="622.55" width="9.39" height="4.38" fill="#14e63c"/>
<rect x="430.54" y="622.55" width="13.07" height="4.38" fill="#96f018"/>
<rect x="443.56" y="622.55" width="4.39" height="4.38" fill="#08eca0"/>
<rect x="447.9" y="622.55" width="4.39" height="4.38" fill="#0818d2"/>
<rect x="452.24" y="622.55" width="4.39" height="4.38" fill="#08d4f4"/>
<rect x="456.58" y="622.55" width="4.39" height="4.38" fill="#08eca0"/>
<rect x="460.92" y="622.55" width="8.73" height="4.38" fill="#14e63c"/>
<rect x="469.6" y="622.55" width="4.39" height="4.38" fill="#96f018"/>
<rect x="473.94" y="622.55" width="4.39" height="4.38" fill="#14e63c"/>
<rect x="478.28" y="622.55" width="4.39" height="4.38" fill="#08eca0"/>
<rect x="482.62" y="622.55" width="4.39" height="4.38" fill="#0818d2"/>
<rect x="486.96" y="622.55" width="4.39" height="4.38" fill="#0c74e6"/>
<rect x="491.3" y="622.55" width="4.39" height="4.38" fill="#08d4f4"/>
<rect x="495.64" y="622.55" width="13.07" height="4.38" fill="#0c74e6"/>
<rect x="508.66" y="622.55" width="9.39" height="4.38" fill="#08d4f4"/>
<rect x="421.2" y="626.89" width="9.39" height="4.38" fill="#14e63c"/>
<rect x="430.54" y="626.89" width="13.07" height="4.38" fill="#96f018"/>
<rect x="443.56" y="626.89" width="13.07" height="4.38" fill="#08d4f4"/>
<rect x="456.58" y="626.89" width="17.41" height="4.38" fill="#14e63c"/>
<rect x="473.94" y="626.89" width="4.39" height="4.38" fill="#96f018"/>
<rect x="478.28" y="626.89" width="13.07" height="4.38" fill="#08eca0"/>
<rect x="491.3" y="626.89" width="17.41" height="4.38" fill="#0c74e6"/>
<rect x="508.66" y="626.89" width="9.39" height="4.38" fill="#08eca0"/>
<rect x="421.2" y="631.23" width="9.39" height="4.38" fill="#08eca0"/>
<rect x="430.54" y="631.23" width="4.39" height="4.38" fill="#14e63c"/>
<rect x="434.88" y="631.23" width="4.39" height="4.38" fill="#f6de08"/>
<rect x="439.22" y="631.23" width="4.39" height="4.38" fill="#14e63c"/>
<rect x="443.56" y="631.23" width="8.73" height="4.38" fill="#08d4f4"/>
<rect x="452.24" y="631.23" width="4.39" height="4.38" fill="#08eca0"/>
<rect x="456.58" y="631.23" width="17.41" height="4.38" fill="#14e63c"/>
<rect x="473.94" y="631.23" width="4.39" height="4.38" fill="#96f018"/>
<rect x="478.28" y="631.23" width="17.41" height="4.38" fill="#14e63c"/>
<rect x="495.64" y="631.23" width="22.41" height="4.38" fill="#08eca0"/>
<rect x="421.2" y="635.56" width="22.41" height="4.38" fill="#08eca0"/>
<rect x="443.56" y="635.56" width="4.39" height="4.38" fill="#08d4f4"/>
<rect x="447.9" y="635.56" width="8.73" height="4.38" fill="#08eca0"/>
<rect x="456.58" y="635.56" width="4.39" height="4.38" fill="#96f018"/>
<rect x="460.92" y="635.56" width="4.39" height="4.38" fill="#f6de08"/>
<rect x="465.26" y="635.56" width="8.73" height="4.38" fill="#96f018"/>
<rect x="473.94" y="635.56" width="30.43" height="4.38" fill="#14e63c"/>
<rect x="504.32" y="635.56" width="13.73" height="4.38" fill="#08eca0"/>
<rect x="421.2" y="639.89" width="13.73" height="4.38" fill="#08eca0"/>
<rect x="434.88" y="639.89" width="4.39" height="4.38" fill="#08d4f4"/>
<rect x="439.22" y="639.89" width="4.39" height="4.38" fill="#08eca0"/>
<rect x="443.56" y="639.89" width="4.39" height="4.38" fill="#96f018"/>
<rect x="447.9" y="639.89" width="8.73" height="4.38" fill="#f6de08"/>
<rect x="456.58" y="639.89" width="8.73" height="4.38" fill="#08eca0"/>
<rect x="465.26" y="639.89" width="8.73" height="4.38" fill="#96f018"/>
<rect x="473.94" y="639.89" width="26.09" height="4.38" fill="#14e63c"/>
<rect x="499.98" y="639.89" width="4.39" height="4.38" fill="#08eca0"/>
<rect x="504.32" y="639.89" width="4.39" height="4.38" fill="#08d4f4"/>
<rect x="508.66" y="639.89" width="9.39" height="4.38" fill="#08eca0"/>
<rect x="421.2" y="644.23" width="22.41" height="4.38" fill="#08eca0"/>
<rect x="443.56" y="644.23" width="13.07" height="4.38" fill="#f6de08"/>
<rect x="456.58" y="644.23" width="13.07" height="4.38" fill="#08eca0"/>
<rect x="469.6" y="644.23" width="4.39" height="4.38" fill="#96f018"/>
<rect x="473.94" y="644.23" width="21.75" height="4.38" fill="#14e63c"/>
<rect x="495.64" y="644.23" width="8.73" height="4.38" fill="#08eca0"/>
<rect x="504.32" y="644.23" width="4.39" height="4.38" fill="#08d4f4"/>
<rect x="508.66" y="644.23" width="9.39" height="4.38" fill="#08eca0"/>
<rect x="421.2" y="648.56" width="22.41" height="9.38" fill="#08eca0"/>
<rect x="443.56" y="648.56" width="8.73" height="9.38" fill="#f6de08"/>
<rect x="452.24" y="648.56" width="4.39" height="9.38" fill="#96f018"/>
<rect x="456.58" y="648.56" width="17.41" height="9.38" fill="#08eca0"/>
<rect x="473.94" y="648.56" width="21.75" height="9.38" fill="#14e63c"/>
<rect x="495.64" y="648.56" width="22.41" height="9.38" fill="#08eca0"/>
</g></g>
<path d="M426.2 566.2V652.9M426.2 566.2H513M430.54 566.2V652.9M426.2 570.54H513M434.88 566.2V652.9M426.2 574.87H513M439.22 566.2V652.9M426.2 579.21H513M443.56 566.2V652.9M426.2 583.54H513M447.9 566.2V652.9M426.2 587.88H513M452.24 566.2V652.9M426.2 592.21H513M456.58 566.2V652.9M426.2 596.55H513M460.92 566.2V652.9M426.2 600.88H513M465.26 566.2V652.9M426.2 605.22H513M469.6 566.2V652.9M426.2 609.55H513M473.94 566.2V652.9M426.2 613.88H513M478.28 566.2V652.9M426.2 618.22H513M482.62 566.2V652.9M426.2 622.55H513M486.96 566.2V652.9M426.2 626.89H513M491.3 566.2V652.9M426.2 631.23H513M495.64 566.2V652.9M426.2 635.56H513M499.98 566.2V652.9M426.2 639.89H513M504.32 566.2V652.9M426.2 644.23H513M508.66 566.2V652.9M426.2 648.56H513M513 566.2V652.9M426.2 652.9H513" fill="none" stroke="#003c14" stroke-opacity="0.45" stroke-width="0.65"/>
<text x="381.6" y="596.4" font-size="19" text-anchor="middle" >2</text>
<text x="399.8" y="657.6" font-size="19" text-anchor="middle" >1</text>
<path d="M382.1 614V633H401" fill="none" stroke="#000" stroke-width="1.5"/>
<path d="M382.1 606l2.9 10.5h-5.8z"/>
<path d="M409 633l-10.5 -2.9v5.8z"/>
<text x="528.4" y="595.7" font-size="17.5" text-anchor="middle" >T</text>
<path d="M529.3 622.7V653.7" stroke="#000" stroke-width="1.7" fill="none"/>
<path d="M529.3 613.7l3.3 11.5h-6.6z"/>
<text x="288" y="1052.0" font-size="20.5" text-anchor="middle">(<tspan font-weight="bold">c</tspan>)</text>
</g>
<g id="pd">
<g fill="#fe0000" stroke="#000" stroke-width="1.15">
<rect x="743.5" y="940.59" width="11.7" height="0.81" stroke-width="0.6"/>
<rect x="755.2" y="940.34" width="11.7" height="1.06" stroke-width="0.6"/>
<rect x="766.9" y="939.83" width="11.7" height="1.57" stroke-width="0.6"/>
<rect x="778.6" y="937.45" width="11.7" height="3.95"/>
<rect x="790.3" y="934.52" width="11.7" height="6.88"/>
<rect x="802" y="930.58" width="11.7" height="10.82"/>
<rect x="813.7" y="917.21" width="11.7" height="24.19"/>
<rect x="825.4" y="898.36" width="11.7" height="43.04"/>
<rect x="837.1" y="861.69" width="11.7" height="79.71"/>
<rect x="848.8" y="816.61" width="11.7" height="124.79"/>
<rect x="860.5" y="762.11" width="11.7" height="179.29"/>
<rect x="872.2" y="693.35" width="11.7" height="248.05"/>
<rect x="883.9" y="637.84" width="11.7" height="303.56"/>
<rect x="895.6" y="612.63" width="11.7" height="328.77"/>
<rect x="907.3" y="634.27" width="11.7" height="307.13"/>
<rect x="919" y="664.32" width="11.7" height="277.08"/>
<rect x="930.7" y="729.52" width="11.7" height="211.88"/>
<rect x="942.4" y="774.08" width="11.7" height="167.32"/>
<rect x="954.1" y="836.99" width="11.7" height="104.41"/>
<rect x="965.8" y="883.34" width="11.7" height="58.06"/>
<rect x="977.5" y="906.26" width="11.7" height="35.14"/>
<rect x="989.2" y="923.32" width="11.7" height="18.08"/>
<rect x="1000.9" y="933.51" width="11.7" height="7.89"/>
<rect x="1012.6" y="936.82" width="11.7" height="4.58"/>
<rect x="1024.3" y="939.36" width="11.7" height="2.04"/>
<rect x="1036" y="940.08" width="11.7" height="1.32" stroke-width="0.6"/>
<rect x="1047.7" y="940.59" width="11.7" height="0.81" stroke-width="0.6"/>
</g>
<rect x="661.6" y="559.4" width="468" height="382" fill="none" stroke="#000" stroke-width="1.4"/>
<path d="M661.6 941.4h-7.6M661.6 928.67h-3.8M661.6 915.93h-7.6M661.6 903.2h-3.8M661.6 890.47h-7.6M661.6 877.73h-3.8M661.6 865h-7.6M661.6 852.27h-3.8M661.6 839.53h-7.6M661.6 826.8h-3.8M661.6 814.07h-7.6M661.6 801.33h-3.8M661.6 788.6h-7.6M661.6 775.87h-3.8M661.6 763.13h-7.6M661.6 750.4h-3.8M661.6 737.67h-7.6M661.6 724.93h-3.8M661.6 712.2h-7.6M661.6 699.47h-3.8M661.6 686.73h-7.6M661.6 674h-3.8M661.6 661.27h-7.6M661.6 648.53h-3.8M661.6 635.8h-7.6M661.6 623.07h-3.8M661.6 610.33h-7.6M661.6 597.6h-3.8M661.6 584.87h-7.6M661.6 572.13h-3.8M661.6 559.4h-7.6" stroke="#000" stroke-width="1.4" fill="none"/>
<g font-size="17.5" text-anchor="end">
<text transform="translate(648.2 947.2) scale(1 1.03)">0</text>
<text transform="translate(648.2 921.73) scale(1 1.03)">1</text>
<text transform="translate(648.2 896.27) scale(1 1.03)">2</text>
<text transform="translate(648.2 870.8) scale(1 1.03)">3</text>
<text transform="translate(648.2 845.33) scale(1 1.03)">4</text>
<text transform="translate(648.2 819.87) scale(1 1.03)">5</text>
<text transform="translate(648.2 794.4) scale(1 1.03)">6</text>
<text transform="translate(648.2 768.93) scale(1 1.03)">7</text>
<text transform="translate(648.2 743.47) scale(1 1.03)">8</text>
<text transform="translate(648.2 718) scale(1 1.03)">9</text>
<text transform="translate(648.2 692.53) scale(1 1.03)">10</text>
<text transform="translate(648.2 667.07) scale(1 1.03)">11</text>
<text transform="translate(648.2 641.6) scale(1 1.03)">12</text>
<text transform="translate(648.2 616.13) scale(1 1.03)">13</text>
<text transform="translate(648.2 590.67) scale(1 1.03)">14</text>
<text transform="translate(648.2 565.2) scale(1 1.03)">15</text>
</g>
<g font-size="17.5" text-anchor="middle">
<text transform="translate(661.6 963.5) scale(1 1.03)">-0.4</text>
<text transform="translate(720.1 963.5) scale(1 1.03)">-0.3</text>
<text transform="translate(778.6 963.5) scale(1 1.03)">-0.2</text>
<text transform="translate(837.1 963.5) scale(1 1.03)">-0.1</text>
<text transform="translate(895.6 963.5) scale(1 1.03)">0.0</text>
<text transform="translate(954.1 963.5) scale(1 1.03)">0.1</text>
<text transform="translate(1012.6 963.5) scale(1 1.03)">0.2</text>
<text transform="translate(1071.1 963.5) scale(1 1.03)">0.3</text>
<text transform="translate(1129.6 963.5) scale(1 1.03)">0.4</text>
</g>
<text transform="translate(622.4 750.4) rotate(-90) scale(1.043 1)" font-size="17.5" text-anchor="middle">Volume fraction (%)</text>
<text x="824.3" y="995" font-size="17.7" text-anchor="start" >Shear strain <tspan dx="-2">（</tspan>γ,rad)</text>
<text x="671.6" y="578.8" font-size="17.8" text-anchor="start" >Average=0.01564</text>
<text x="671.6" y="601" font-size="17.8" text-anchor="start" >Standard deviation=0.06414</text>
<text x="671.6" y="623.9" font-size="17.8" text-anchor="start" >COV=4.101</text>
<clipPath id="hc4"><rect x="1017.9" y="571.9" width="84.6" height="85.6"/></clipPath>
<g clip-path="url(#hc4)"><g filter="url(#hb)" shape-rendering="crispEdges">
<rect x="1012.9" y="566.9" width="9.28" height="9.33" fill="#f03810"/>
<rect x="1022.13" y="566.9" width="12.74" height="9.33" fill="#1eea22"/>
<rect x="1034.82" y="566.9" width="8.51" height="9.33" fill="#9cf21a"/>
<rect x="1043.28" y="566.9" width="4.28" height="9.33" fill="#12ec98"/>
<rect x="1047.51" y="566.9" width="16.97" height="9.33" fill="#1eea22"/>
<rect x="1064.43" y="566.9" width="4.28" height="9.33" fill="#12ec98"/>
<rect x="1068.66" y="566.9" width="21.2" height="9.33" fill="#1eea22"/>
<rect x="1089.81" y="566.9" width="4.28" height="9.33" fill="#f2e010"/>
<rect x="1094.04" y="566.9" width="4.28" height="9.33" fill="#ff8a08"/>
<rect x="1098.27" y="566.9" width="9.28" height="9.33" fill="#9cf21a"/>
<rect x="1012.9" y="576.18" width="9.28" height="4.33" fill="#f2e010"/>
<rect x="1022.13" y="576.18" width="12.74" height="4.33" fill="#1eea22"/>
<rect x="1034.82" y="576.18" width="8.51" height="4.33" fill="#9cf21a"/>
<rect x="1043.28" y="576.18" width="42.35" height="4.33" fill="#1eea22"/>
<rect x="1085.58" y="576.18" width="4.28" height="4.33" fill="#12ec98"/>
<rect x="1089.81" y="576.18" width="17.74" height="4.33" fill="#1eea22"/>
<rect x="1012.9" y="580.46" width="9.28" height="4.33" fill="#9cf21a"/>
<rect x="1022.13" y="580.46" width="25.43" height="4.33" fill="#1eea22"/>
<rect x="1047.51" y="580.46" width="4.28" height="4.33" fill="#9cf21a"/>
<rect x="1051.74" y="580.46" width="4.28" height="4.33" fill="#1eea22"/>
<rect x="1055.97" y="580.46" width="4.28" height="4.33" fill="#9cf21a"/>
<rect x="1060.2" y="580.46" width="21.2" height="4.33" fill="#1eea22"/>
<rect x="1081.35" y="580.46" width="8.51" height="4.33" fill="#12ec98"/>
<rect x="1089.81" y="580.46" width="4.28" height="4.33" fill="#9cf21a"/>
<rect x="1094.04" y="580.46" width="4.28" height="4.33" fill="#1eea22"/>
<rect x="1098.27" y="580.46" width="9.28" height="4.33" fill="#12ec98"/>
<rect x="1012.9" y="584.74" width="21.97" height="4.33" fill="#1eea22"/>
<rect x="1034.82" y="584.74" width="8.51" height="4.33" fill="#9cf21a"/>
<rect x="1043.28" y="584.74" width="25.43" height="4.33" fill="#1eea22"/>
<rect x="1068.66" y="584.74" width="8.51" height="4.33" fill="#12ec98"/>
<rect x="1077.12" y="584.74" width="4.28" height="4.33" fill="#1eea22"/>
<rect x="1081.35" y="584.74" width="8.51" height="4.33" fill="#12ec98"/>
<rect x="1089.81" y="584.74" width="4.28" height="4.33" fill="#1eea22"/>
<rect x="1094.04" y="584.74" width="13.51" height="4.33" fill="#12ec98"/>
<rect x="1012.9" y="589.02" width="17.74" height="4.33" fill="#1eea22"/>
<rect x="1030.59" y="589.02" width="12.74" height="4.33" fill="#9cf21a"/>
<rect x="1043.28" y="589.02" width="4.28" height="4.33" fill="#1eea22"/>
<rect x="1047.51" y="589.02" width="4.28" height="4.33" fill="#9cf21a"/>
<rect x="1051.74" y="589.02" width="8.51" height="4.33" fill="#1eea22"/>
<rect x="1060.2" y="589.02" width="4.28" height="4.33" fill="#9cf21a"/>
<rect x="1064.43" y="589.02" width="12.74" height="4.33" fill="#1eea22"/>
<rect x="1077.12" y="589.02" width="4.28" height="4.33" fill="#9cf21a"/>
<rect x="1081.35" y="589.02" width="26.2" height="4.33" fill="#1eea22"/>
<rect x="1012.9" y="593.3" width="21.97" height="4.33" fill="#1eea22"/>
<rect x="1034.82" y="593.3" width="4.28" height="4.33" fill="#12ec98"/>
<rect x="1039.05" y="593.3" width="4.28" height="4.33" fill="#1eea22"/>
<rect x="1043.28" y="593.3" width="4.28" height="4.33" fill="#12ec98"/>
<rect x="1047.51" y="593.3" width="29.66" height="4.33" fill="#1eea22"/>
<rect x="1077.12" y="593.3" width="4.28" height="4.33" fill="#9cf21a"/>
<rect x="1081.35" y="593.3" width="4.28" height="4.33" fill="#1eea22"/>
<rect x="1085.58" y="593.3" width="4.28" height="4.33" fill="#9cf21a"/>
<rect x="1089.81" y="593.3" width="17.74" height="4.33" fill="#1eea22"/>
<rect x="1012.9" y="597.58" width="55.81" height="4.33" fill="#1eea22"/>
<rect x="1068.66" y="597.58" width="4.28" height="4.33" fill="#12ec98"/>
<rect x="1072.89" y="597.58" width="12.74" height="4.33" fill="#1eea22"/>
<rect x="1085.58" y="597.58" width="4.28" height="4.33" fill="#9cf21a"/>
<rect x="1089.81" y="597.58" width="17.74" height="4.33" fill="#1eea22"/>
<rect x="1012.9" y="601.86" width="13.51" height="4.33" fill="#1eea22"/>
<rect x="1026.36" y="601.86" width="8.51" height="4.33" fill="#9cf21a"/>
<rect x="1034.82" y="601.86" width="29.66" height="4.33" fill="#1eea22"/>
<rect x="1064.43" y="601.86" width="4.28" height="4.33" fill="#9cf21a"/>
<rect x="1068.66" y="601.86" width="4.28" height="4.33" fill="#12ec98"/>
<rect x="1072.89" y="601.86" width="8.51" height="4.33" fill="#1eea22"/>
<rect x="1081.35" y="601.86" width="4.28" height="4.33" fill="#12ec98"/>
<rect x="1085.58" y="601.86" width="21.97" height="4.33" fill="#1eea22"/>
<rect x="1012.9" y="606.14" width="30.43" height="4.33" fill="#1eea22"/>
<rect x="1043.28" y="606.14" width="4.28" height="4.33" fill="#12ec98"/>
<rect x="1047.51" y="606.14" width="21.2" height="4.33" fill="#1eea22"/>
<rect x="1068.66" y="606.14" width="4.28" height="4.33" fill="#12ec98"/>
<rect x="1072.89" y="606.14" width="34.66" height="4.33" fill="#1eea22"/>
<rect x="1012.9" y="610.42" width="13.51" height="4.33" fill="#1eea22"/>
<rect x="1026.36" y="610.42" width="16.97" height="4.33" fill="#9cf21a"/>
<rect x="1043.28" y="610.42" width="64.27" height="4.33" fill="#1eea22"/>
<rect x="1012.9" y="614.7" width="9.28" height="4.33" fill="#1eea22"/>
<rect x="1022.13" y="614.7" width="4.28" height="4.33" fill="#9cf21a"/>
<rect x="1026.36" y="614.7" width="4.28" height="4.33" fill="#12ec98"/>
<rect x="1030.59" y="614.7" width="33.89" height="4.33" fill="#1eea22"/>
<rect x="1064.43" y="614.7" width="4.28" height="4.33" fill="#9cf21a"/>
<rect x="1068.66" y="614.7" width="38.89" height="4.33" fill="#1eea22"/>
<rect x="1012.9" y="618.98" width="17.74" height="4.33" fill="#1eea22"/>
<rect x="1030.59" y="618.98" width="12.74" height="4.33" fill="#9cf21a"/>
<rect x="1043.28" y="618.98" width="8.51" height="4.33" fill="#1eea22"/>
<rect x="1051.74" y="618.98" width="4.28" height="4.33" fill="#f2e010"/>
<rect x="1055.97" y="618.98" width="4.28" height="4.33" fill="#1eea22"/>
<rect x="1060.2" y="618.98" width="4.28" height="4.33" fill="#12ec98"/>
<rect x="1064.43" y="618.98" width="43.12" height="4.33" fill="#1eea22"/>
<rect x="1012.9" y="623.26" width="21.97" height="4.33" fill="#1eea22"/>
<rect x="1034.82" y="623.26" width="8.51" height="4.33" fill="#9cf21a"/>
<rect x="1043.28" y="623.26" width="16.97" height="4.33" fill="#1eea22"/>
<rect x="1060.2" y="623.26" width="4.28" height="4.33" fill="#12ec98"/>
<rect x="1064.43" y="623.26" width="43.12" height="4.33" fill="#1eea22"/>
<rect x="1012.9" y="627.54" width="21.97" height="4.33" fill="#1eea22"/>
<rect x="1034.82" y="627.54" width="4.28" height="4.33" fill="#9cf21a"/>
<rect x="1039.05" y="627.54" width="33.89" height="4.33" fill="#1eea22"/>
<rect x="1072.89" y="627.54" width="4.28" height="4.33" fill="#12ec98"/>
<rect x="1077.12" y="627.54" width="30.43" height="4.33" fill="#1eea22"/>
<rect x="1012.9" y="631.82" width="17.74" height="4.33" fill="#1eea22"/>
<rect x="1030.59" y="631.82" width="4.28" height="4.33" fill="#12ec98"/>
<rect x="1034.82" y="631.82" width="38.12" height="4.33" fill="#1eea22"/>
<rect x="1072.89" y="631.82" width="4.28" height="4.33" fill="#12ec98"/>
<rect x="1077.12" y="631.82" width="4.28" height="4.33" fill="#9cf21a"/>
<rect x="1081.35" y="631.82" width="26.2" height="4.33" fill="#1eea22"/>
<rect x="1012.9" y="636.1" width="9.28" height="4.33" fill="#9cf21a"/>
<rect x="1022.13" y="636.1" width="4.28" height="4.33" fill="#f2e010"/>
<rect x="1026.36" y="636.1" width="4.28" height="4.33" fill="#1eea22"/>
<rect x="1030.59" y="636.1" width="4.28" height="4.33" fill="#9cf21a"/>
<rect x="1034.82" y="636.1" width="42.35" height="4.33" fill="#1eea22"/>
<rect x="1077.12" y="636.1" width="4.28" height="4.33" fill="#9cf21a"/>
<rect x="1081.35" y="636.1" width="4.28" height="4.33" fill="#1eea22"/>
<rect x="1085.58" y="636.1" width="4.28" height="4.33" fill="#12ec98"/>
<rect x="1089.81" y="636.1" width="17.74" height="4.33" fill="#1eea22"/>
<rect x="1012.9" y="640.38" width="13.51" height="4.33" fill="#9cf21a"/>
<rect x="1026.36" y="640.38" width="4.28" height="4.33" fill="#12ec98"/>
<rect x="1030.59" y="640.38" width="4.28" height="4.33" fill="#9cf21a"/>
<rect x="1034.82" y="640.38" width="42.35" height="4.33" fill="#1eea22"/>
<rect x="1077.12" y="640.38" width="4.28" height="4.33" fill="#9cf21a"/>
<rect x="1081.35" y="640.38" width="26.2" height="4.33" fill="#1eea22"/>
<rect x="1012.9" y="644.66" width="9.28" height="4.33" fill="#9cf21a"/>
<rect x="1022.13" y="644.66" width="4.28" height="4.33" fill="#1eea22"/>
<rect x="1026.36" y="644.66" width="4.28" height="4.33" fill="#12ec98"/>
<rect x="1030.59" y="644.66" width="12.74" height="4.33" fill="#1eea22"/>
<rect x="1043.28" y="644.66" width="4.28" height="4.33" fill="#9cf21a"/>
<rect x="1047.51" y="644.66" width="8.51" height="4.33" fill="#1eea22"/>
<rect x="1055.97" y="644.66" width="4.28" height="4.33" fill="#9cf21a"/>
<rect x="1060.2" y="644.66" width="16.97" height="4.33" fill="#1eea22"/>
<rect x="1077.12" y="644.66" width="4.28" height="4.33" fill="#9cf21a"/>
<rect x="1081.35" y="644.66" width="26.2" height="4.33" fill="#1eea22"/>
<rect x="1012.9" y="648.94" width="9.28" height="4.33" fill="#9cf21a"/>
<rect x="1022.13" y="648.94" width="21.2" height="4.33" fill="#1eea22"/>
<rect x="1043.28" y="648.94" width="4.28" height="4.33" fill="#9cf21a"/>
<rect x="1047.51" y="648.94" width="12.74" height="4.33" fill="#1eea22"/>
<rect x="1060.2" y="648.94" width="4.28" height="4.33" fill="#9cf21a"/>
<rect x="1064.43" y="648.94" width="12.74" height="4.33" fill="#1eea22"/>
<rect x="1077.12" y="648.94" width="4.28" height="4.33" fill="#12ec98"/>
<rect x="1081.35" y="648.94" width="4.28" height="4.33" fill="#1eea22"/>
<rect x="1085.58" y="648.94" width="8.51" height="4.33" fill="#12ec98"/>
<rect x="1094.04" y="648.94" width="13.51" height="4.33" fill="#1eea22"/>
<rect x="1012.9" y="653.22" width="9.28" height="9.33" fill="#f2e010"/>
<rect x="1022.13" y="653.22" width="4.28" height="9.33" fill="#1eea22"/>
<rect x="1026.36" y="653.22" width="16.97" height="9.33" fill="#9cf21a"/>
<rect x="1043.28" y="653.22" width="8.51" height="9.33" fill="#1eea22"/>
<rect x="1051.74" y="653.22" width="8.51" height="9.33" fill="#12ec98"/>
<rect x="1060.2" y="653.22" width="4.28" height="9.33" fill="#1eea22"/>
<rect x="1064.43" y="653.22" width="8.51" height="9.33" fill="#12ec98"/>
<rect x="1072.89" y="653.22" width="25.43" height="9.33" fill="#1eea22"/>
<rect x="1098.27" y="653.22" width="9.28" height="9.33" fill="#12ec98"/>
</g></g>
<path d="M1017.9 571.9V657.5M1017.9 571.9H1102.5M1022.13 571.9V657.5M1017.9 576.18H1102.5M1026.36 571.9V657.5M1017.9 580.46H1102.5M1030.59 571.9V657.5M1017.9 584.74H1102.5M1034.82 571.9V657.5M1017.9 589.02H1102.5M1039.05 571.9V657.5M1017.9 593.3H1102.5M1043.28 571.9V657.5M1017.9 597.58H1102.5M1047.51 571.9V657.5M1017.9 601.86H1102.5M1051.74 571.9V657.5M1017.9 606.14H1102.5M1055.97 571.9V657.5M1017.9 610.42H1102.5M1060.2 571.9V657.5M1017.9 614.7H1102.5M1064.43 571.9V657.5M1017.9 618.98H1102.5M1068.66 571.9V657.5M1017.9 623.26H1102.5M1072.89 571.9V657.5M1017.9 627.54H1102.5M1077.12 571.9V657.5M1017.9 631.82H1102.5M1081.35 571.9V657.5M1017.9 636.1H1102.5M1085.58 571.9V657.5M1017.9 640.38H1102.5M1089.81 571.9V657.5M1017.9 644.66H1102.5M1094.04 571.9V657.5M1017.9 648.94H1102.5M1098.27 571.9V657.5M1017.9 653.22H1102.5M1102.5 571.9V657.5M1017.9 657.5H1102.5" fill="none" stroke="#003c14" stroke-opacity="0.45" stroke-width="0.65"/>
<text x="972.5" y="592.6" font-size="15" text-anchor="middle" >2</text>
<text x="990.2" y="653.7" font-size="15" text-anchor="middle" >1</text>
<path d="M974 613.1V631.6H992.9" fill="none" stroke="#000" stroke-width="1.5"/>
<path d="M974 605.1l2.9 10.5h-5.8z"/>
<path d="M1000.9 631.6l-10.5 -2.9v5.8z"/>
<text x="1105.5" y="594.4" font-size="17" font-style="italic">Γ<tspan font-style="normal" font-size="13" dy="4.6" dx="-2.8" letter-spacing="1">12</tspan></text>
<path d="M1114 618.9V649.8" stroke="#000" stroke-width="1.7" fill="none"/>
<path d="M1114 609.9l3.3 11.5h-6.6z"/>
<text x="897.6" y="1051.8" font-size="20.5" text-anchor="middle">(<tspan font-weight="bold">d</tspan>)</text>
</g>
</svg>
</body></html>
